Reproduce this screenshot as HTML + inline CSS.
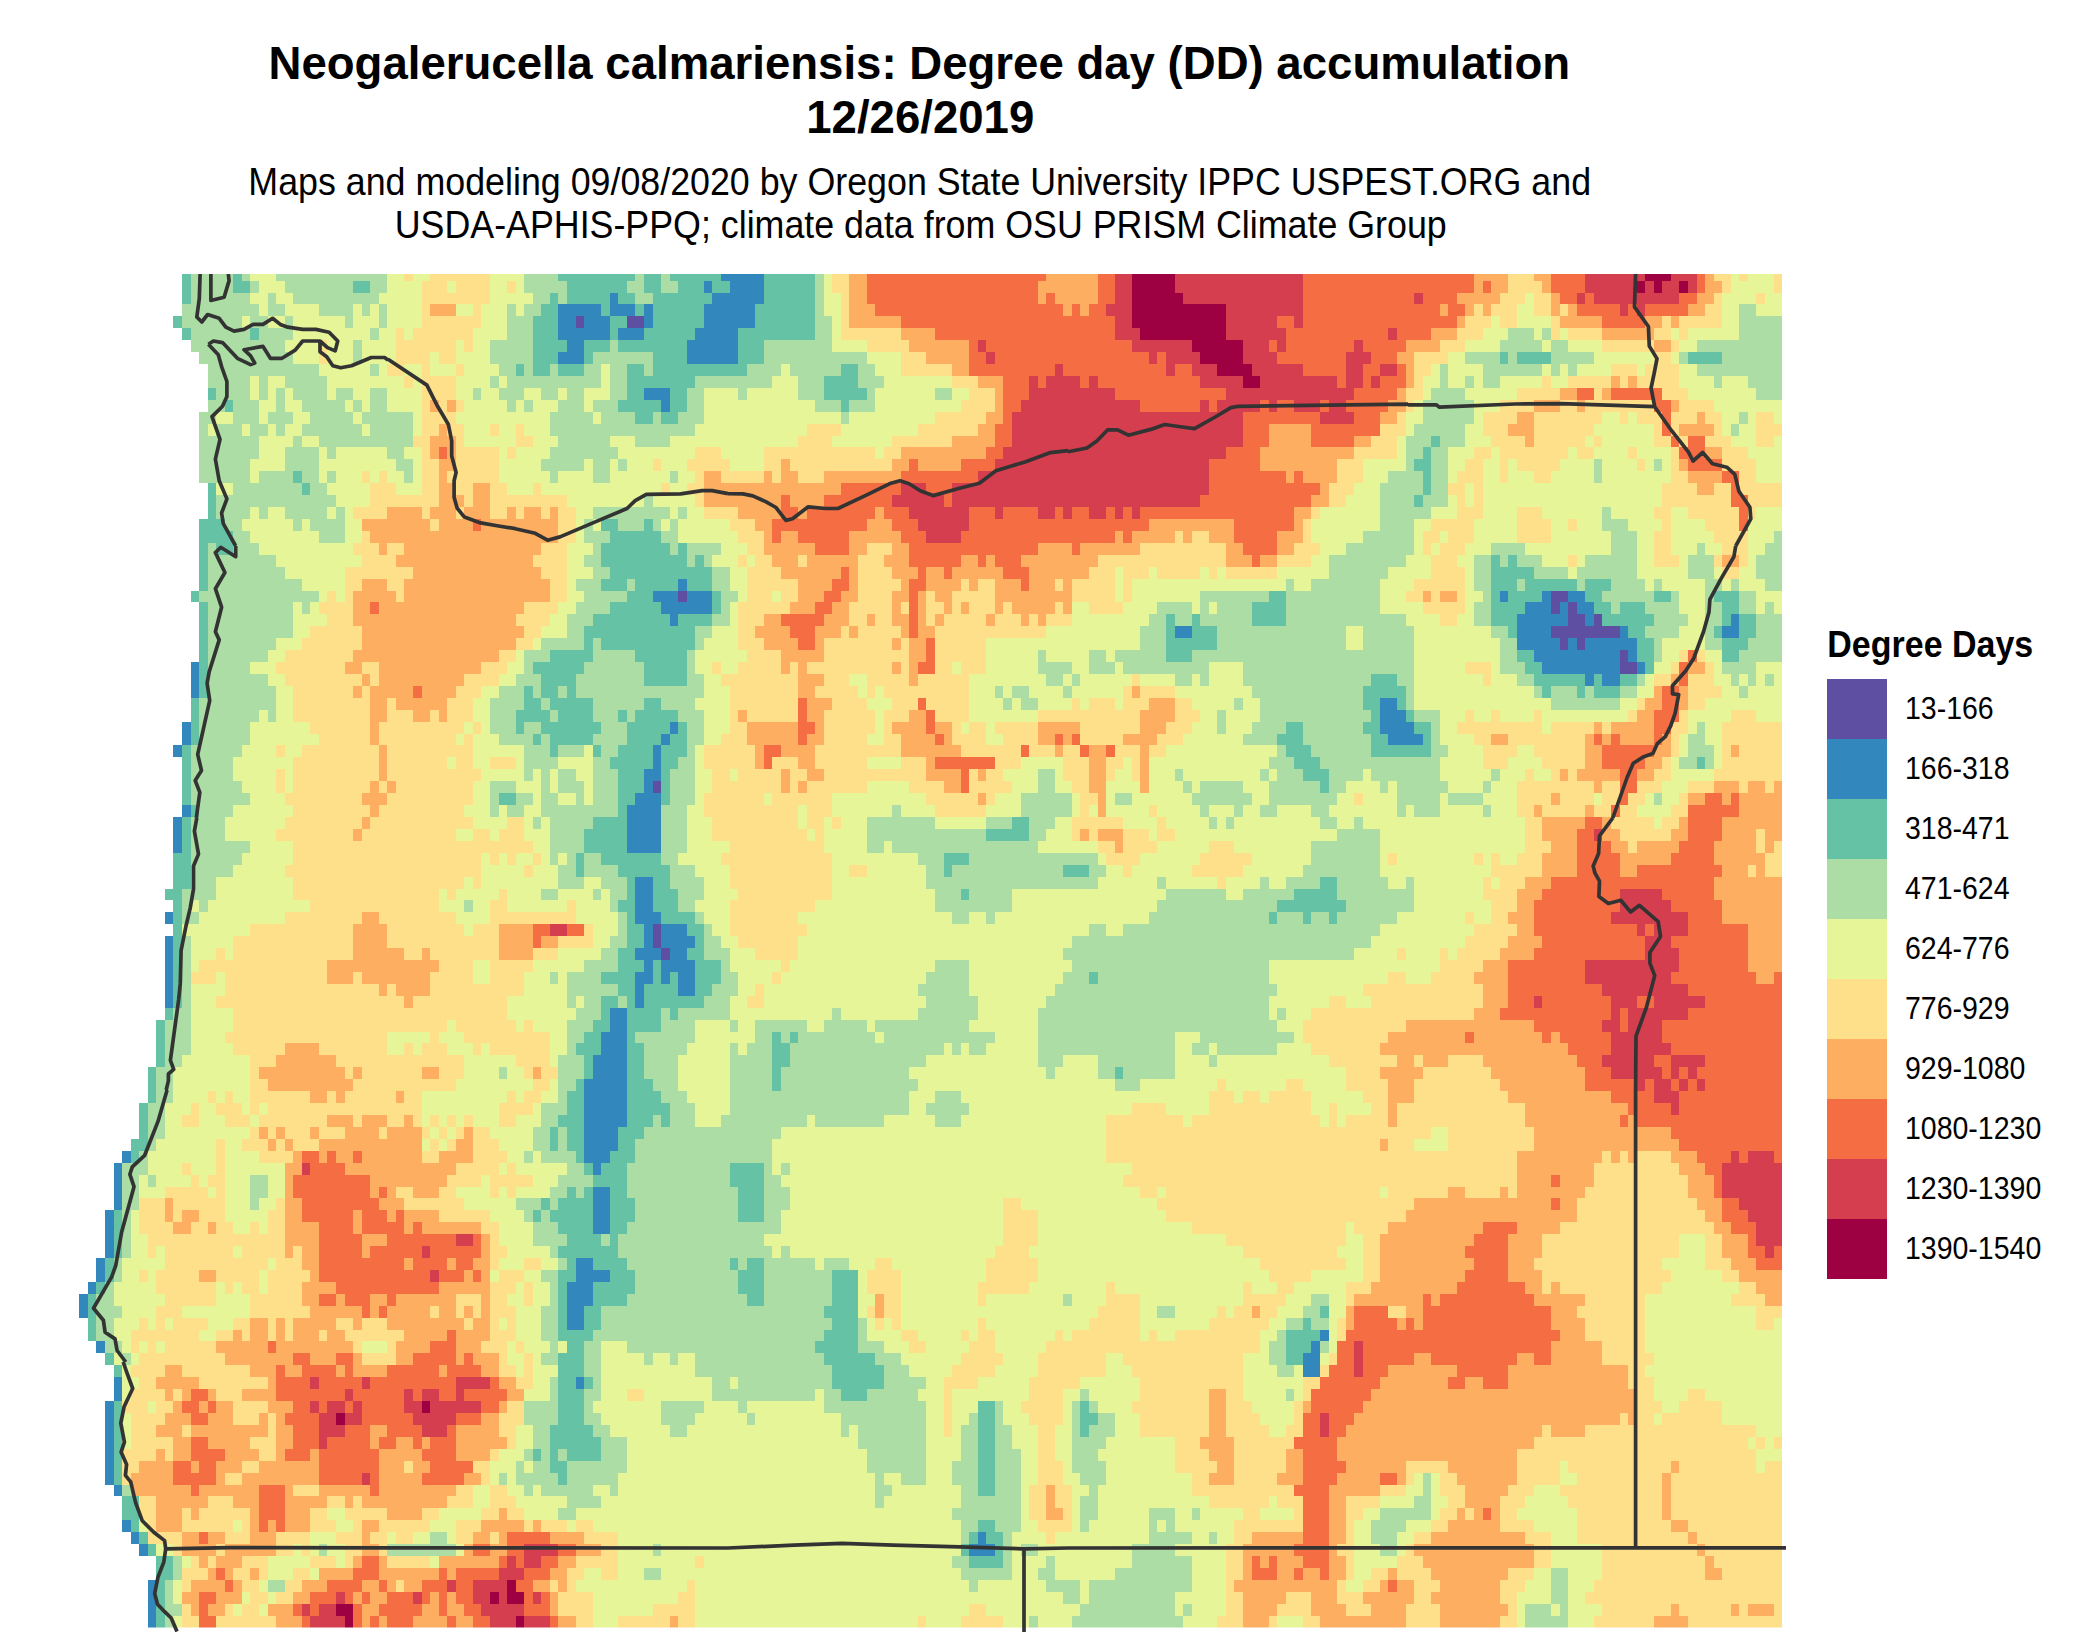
<!DOCTYPE html>
<html><head><meta charset="utf-8"><title>Degree day accumulation</title>
<style>
html,body{margin:0;padding:0;background:#fff}
svg{display:block}
text{font-family:"Liberation Sans",sans-serif;fill:#000}
</style></head><body>
<svg width="2100" height="1645" viewBox="0 0 2100 1645">
<rect width="2100" height="1645" fill="#fff"/>
<text x="919.3" y="79.2" font-size="45.57" font-weight="bold" text-anchor="middle">Neogalerucella calmariensis: Degree day (DD) accumulation</text>
<text x="920.3" y="133.2" font-size="45.57" font-weight="bold" text-anchor="middle">12/26/2019</text>
<text transform="translate(919.7 194.7) scale(1 1.06)" font-size="35.8" text-anchor="middle">Maps and modeling 09/08/2020 by Oregon State University IPPC USPEST.ORG and</text>
<text transform="translate(920.7 238.2) scale(1 1.06)" font-size="35.8" text-anchor="middle">USDA-APHIS-PPQ; climate data from OSU PRISM Climate Group</text>
<defs><clipPath id="mp"><rect x="70" y="274.0" width="1712.1" height="1353.6"/></clipPath>
<clipPath id="lp"><rect x="70" y="274.0" width="1716" height="1358"/></clipPath></defs>
<g clip-path="url(#mp)"><g transform="translate(79.3 268.68) scale(8.5567 11.92)" shape-rendering="crispEdges">
<path fill="#5E4FA2" d="M58 4h1v1h-1zM64 4h2v1h-2zM70 27h1v1h-1zM172 27h2v1h-2zM172 28h1v1h-1zM174 28h1v1h-1zM174 29h2v1h-2zM177 29h1v1h-1zM172 30h8v1h-8zM173 31h1v1h-1zM175 31h1v1h-1zM180 32h1v1h-1zM180 33h2v1h-2zM67 43h1v1h-1zM67 55h1v1h-1zM67 56h1v1h-1zM68 57h1v1h-1z"/>
<path fill="#3288BD" d="M75 0h5v1h-5zM73 1h1v1h-1zM76 1h4v1h-4zM62 2h1v1h-1zM74 2h6v1h-6zM56 3h5v1h-5zM62 3h3v1h-3zM66 3h1v1h-1zM73 3h6v1h-6zM56 4h2v1h-2zM59 4h3v1h-3zM66 4h1v1h-1zM73 4h6v1h-6zM56 5h6v1h-6zM63 5h3v1h-3zM72 5h5v1h-5zM57 6h2v1h-2zM71 6h6v1h-6zM56 7h3v1h-3zM71 7h6v1h-6zM66 10h3v1h-3zM68 11h1v1h-1zM70 26h1v1h-1zM67 27h3v1h-3zM71 27h3v1h-3zM166 27h1v1h-1zM171 27h1v1h-1zM174 27h2v1h-2zM68 28h6v1h-6zM169 28h3v1h-3zM173 28h1v1h-1zM175 28h2v1h-2zM69 29h1v1h-1zM168 29h6v1h-6zM176 29h1v1h-1zM193 29h1v1h-1zM128 30h2v1h-2zM168 30h4v1h-4zM180 30h1v1h-1zM192 30h2v1h-2zM168 31h5v1h-5zM174 31h1v1h-1zM176 31h6v1h-6zM170 32h10v1h-10zM181 32h1v1h-1zM13 33h1v1h-1zM171 33h9v1h-9zM182 33h1v1h-1zM13 34h1v1h-1zM176 34h1v1h-1zM178 34h2v1h-2zM13 35h1v1h-1zM152 36h2v1h-2zM152 37h3v1h-3zM12 38h1v1h-1zM69 38h1v1h-1zM152 38h4v1h-4zM12 39h1v1h-1zM68 39h1v1h-1zM153 39h4v1h-4zM11 40h1v1h-1zM67 40h1v1h-1zM67 41h1v1h-1zM66 42h2v1h-2zM66 43h1v1h-1zM65 44h3v1h-3zM12 45h1v1h-1zM64 45h4v1h-4zM11 46h1v1h-1zM64 46h4v1h-4zM11 47h1v1h-1zM64 47h4v1h-4zM11 48h1v1h-1zM64 48h4v1h-4zM65 51h2v1h-2zM65 52h2v1h-2zM65 53h2v1h-2zM10 54h1v1h-1zM65 54h3v1h-3zM66 55h1v1h-1zM68 55h3v1h-3zM10 56h1v1h-1zM66 56h1v1h-1zM68 56h4v1h-4zM10 57h1v1h-1zM65 57h3v1h-3zM69 57h2v1h-2zM10 58h1v1h-1zM66 58h1v1h-1zM68 58h4v1h-4zM10 59h1v1h-1zM65 59h2v1h-2zM68 59h1v1h-1zM70 59h2v1h-2zM10 60h1v1h-1zM65 60h1v1h-1zM70 60h2v1h-2zM10 61h1v1h-1zM65 61h1v1h-1zM62 62h2v1h-2zM62 63h2v1h-2zM61 64h3v1h-3zM61 65h3v1h-3zM60 66h4v1h-4zM60 67h4v1h-4zM59 68h5v1h-5zM59 69h5v1h-5zM59 70h5v1h-5zM59 71h5v1h-5zM59 72h4v1h-4zM59 73h4v1h-4zM5 74h1v1h-1zM59 74h3v1h-3zM4 75h1v1h-1zM60 75h1v1h-1zM4 76h1v1h-1zM4 77h1v1h-1zM60 77h2v1h-2zM4 78h1v1h-1zM60 78h2v1h-2zM3 79h1v1h-1zM60 79h2v1h-2zM3 80h1v1h-1zM60 80h2v1h-2zM3 81h1v1h-1zM3 82h1v1h-1zM2 83h1v1h-1zM58 83h2v1h-2zM2 84h1v1h-1zM58 84h4v1h-4zM1 85h1v1h-1zM57 85h3v1h-3zM0 86h1v1h-1zM57 86h3v1h-3zM0 87h1v1h-1zM57 87h2v1h-2zM57 88h2v1h-2zM145 89h1v1h-1zM2 90h1v1h-1zM144 90h1v1h-1zM143 91h2v1h-2zM143 92h2v1h-2zM4 93h1v1h-1zM58 93h1v1h-1zM4 94h1v1h-1zM3 95h1v1h-1zM3 96h1v1h-1zM3 97h1v1h-1zM3 98h1v1h-1zM3 99h1v1h-1zM3 100h1v1h-1zM3 101h1v1h-1zM4 102h1v1h-1zM5 105h1v1h-1zM6 106h1v1h-1zM105 106h1v1h-1zM7 107h1v1h-1zM104 107h3v1h-3zM8 110h1v1h-1zM8 111h1v1h-1zM8 112h1v1h-1zM8 113h1v1h-1z"/>
<path fill="#66C2A5" d="M12 0h1v1h-1zM18 0h1v1h-1zM56 0h9v1h-9zM66 0h2v1h-2zM69 0h6v1h-6zM80 0h6v1h-6zM12 1h1v1h-1zM18 1h2v1h-2zM32 1h2v1h-2zM57 1h7v1h-7zM66 1h2v1h-2zM70 1h3v1h-3zM74 1h2v1h-2zM80 1h6v1h-6zM12 2h1v1h-1zM55 2h1v1h-1zM57 2h5v1h-5zM63 2h2v1h-2zM67 2h7v1h-7zM80 2h6v1h-6zM54 3h2v1h-2zM61 3h1v1h-1zM65 3h1v1h-1zM67 3h6v1h-6zM79 3h7v1h-7zM11 4h1v1h-1zM53 4h3v1h-3zM62 4h2v1h-2zM67 4h6v1h-6zM79 4h7v1h-7zM12 5h1v1h-1zM20 5h1v1h-1zM53 5h3v1h-3zM62 5h1v1h-1zM66 5h6v1h-6zM77 5h9v1h-9zM53 6h4v1h-4zM59 6h3v1h-3zM63 6h8v1h-8zM77 6h3v1h-3zM53 7h3v1h-3zM59 7h1v1h-1zM67 7h4v1h-4zM77 7h3v1h-3zM166 7h1v1h-1zM168 7h4v1h-4zM188 7h4v1h-4zM51 8h1v1h-1zM53 8h2v1h-2zM56 8h3v1h-3zM64 8h2v1h-2zM67 8h11v1h-11zM89 8h2v1h-2zM64 9h8v1h-8zM87 9h4v1h-4zM15 10h1v1h-1zM64 10h2v1h-2zM69 10h2v1h-2zM87 10h5v1h-5zM17 11h1v1h-1zM63 11h5v1h-5zM69 11h2v1h-2zM89 11h1v1h-1zM65 12h2v1h-2zM68 12h2v1h-2zM158 14h1v1h-1zM157 15h1v1h-1zM156 16h2v1h-2zM25 17h1v1h-1zM157 17h1v1h-1zM15 18h1v1h-1zM26 18h1v1h-1zM157 18h1v1h-1zM15 19h1v1h-1zM156 19h1v1h-1zM15 20h1v1h-1zM14 21h3v1h-3zM61 21h2v1h-2zM66 21h1v1h-1zM14 22h4v1h-4zM62 22h6v1h-6zM14 23h1v1h-1zM16 23h2v1h-2zM61 23h8v1h-8zM70 23h1v1h-1zM14 24h1v1h-1zM61 24h10v1h-10zM72 24h1v1h-1zM165 24h1v1h-1zM167 24h1v1h-1zM14 25h1v1h-1zM62 25h12v1h-12zM165 25h5v1h-5zM14 26h1v1h-1zM61 26h3v1h-3zM65 26h5v1h-5zM71 26h3v1h-3zM165 26h3v1h-3zM169 26h6v1h-6zM176 26h3v1h-3zM13 27h1v1h-1zM64 27h3v1h-3zM74 27h1v1h-1zM139 27h2v1h-2zM165 27h1v1h-1zM167 27h4v1h-4zM176 27h2v1h-2zM184 27h2v1h-2zM191 27h3v1h-3zM14 28h1v1h-1zM62 28h6v1h-6zM74 28h1v1h-1zM137 28h4v1h-4zM165 28h4v1h-4zM177 28h2v1h-2zM180 28h3v1h-3zM192 28h2v1h-2zM14 29h1v1h-1zM60 29h9v1h-9zM70 29h4v1h-4zM127 29h1v1h-1zM130 29h1v1h-1zM137 29h4v1h-4zM165 29h3v1h-3zM178 29h6v1h-6zM192 29h1v1h-1zM194 29h2v1h-2zM14 30h1v1h-1zM59 30h13v1h-13zM127 30h1v1h-1zM130 30h3v1h-3zM167 30h1v1h-1zM181 30h2v1h-2zM191 30h1v1h-1zM194 30h2v1h-2zM14 31h1v1h-1zM59 31h1v1h-1zM61 31h11v1h-11zM127 31h6v1h-6zM182 31h2v1h-2zM192 31h3v1h-3zM14 32h1v1h-1zM55 32h5v1h-5zM65 32h6v1h-6zM127 32h3v1h-3zM168 32h2v1h-2zM182 32h2v1h-2zM192 32h2v1h-2zM14 33h1v1h-1zM53 33h6v1h-6zM66 33h5v1h-5zM169 33h2v1h-2zM183 33h1v1h-1zM14 34h1v1h-1zM54 34h4v1h-4zM66 34h5v1h-5zM151 34h3v1h-3zM170 34h6v1h-6zM177 34h1v1h-1zM180 34h2v1h-2zM14 35h1v1h-1zM52 35h1v1h-1zM54 35h2v1h-2zM57 35h1v1h-1zM150 35h5v1h-5zM171 35h1v1h-1zM175 35h1v1h-1zM177 35h3v1h-3zM13 36h1v1h-1zM52 36h2v1h-2zM55 36h5v1h-5zM66 36h2v1h-2zM150 36h2v1h-2zM154 36h1v1h-1zM13 37h1v1h-1zM51 37h4v1h-4zM56 37h4v1h-4zM63 37h1v1h-1zM65 37h5v1h-5zM151 37h1v1h-1zM155 37h1v1h-1zM13 38h1v1h-1zM51 38h1v1h-1zM54 38h7v1h-7zM64 38h5v1h-5zM70 38h1v1h-1zM141 38h2v1h-2zM150 38h2v1h-2zM156 38h2v1h-2zM13 39h1v1h-1zM53 39h1v1h-1zM55 39h5v1h-5zM64 39h4v1h-4zM69 39h2v1h-2zM140 39h3v1h-3zM151 39h2v1h-2zM157 39h1v1h-1zM12 40h1v1h-1zM55 40h1v1h-1zM60 40h1v1h-1zM63 40h4v1h-4zM68 40h3v1h-3zM141 40h3v1h-3zM151 40h7v1h-7zM12 41h1v1h-1zM62 41h5v1h-5zM68 41h2v1h-2zM142 41h3v1h-3zM189 41h1v1h-1zM12 42h1v1h-1zM63 42h3v1h-3zM68 42h1v1h-1zM143 42h3v1h-3zM12 43h1v1h-1zM63 43h3v1h-3zM68 43h1v1h-1zM145 43h1v1h-1zM12 44h1v1h-1zM49 44h2v1h-2zM63 44h2v1h-2zM68 44h1v1h-1zM13 45h1v1h-1zM63 45h1v1h-1zM12 46h1v1h-1zM60 46h4v1h-4zM109 46h2v1h-2zM12 47h1v1h-1zM59 47h5v1h-5zM106 47h5v1h-5zM12 48h1v1h-1zM59 48h5v1h-5zM11 49h2v1h-2zM58 49h1v1h-1zM61 49h7v1h-7zM101 49h3v1h-3zM11 50h2v1h-2zM58 50h1v1h-1zM63 50h6v1h-6zM101 50h1v1h-1zM115 50h3v1h-3zM11 51h2v1h-2zM64 51h1v1h-1zM67 51h2v1h-2zM145 51h2v1h-2zM10 52h2v1h-2zM64 52h1v1h-1zM67 52h3v1h-3zM103 52h1v1h-1zM142 52h5v1h-5zM11 53h1v1h-1zM63 53h2v1h-2zM67 53h3v1h-3zM140 53h8v1h-8zM11 54h1v1h-1zM64 54h1v1h-1zM68 54h4v1h-4zM139 54h1v1h-1zM143 54h1v1h-1zM146 54h1v1h-1zM11 55h1v1h-1zM64 55h2v1h-2zM71 55h2v1h-2zM11 56h1v1h-1zM64 56h2v1h-2zM72 56h1v1h-1zM11 57h1v1h-1zM63 57h2v1h-2zM71 57h2v1h-2zM11 58h1v1h-1zM63 58h3v1h-3zM67 58h1v1h-1zM72 58h3v1h-3zM11 59h1v1h-1zM61 59h4v1h-4zM67 59h1v1h-1zM69 59h1v1h-1zM72 59h3v1h-3zM118 59h1v1h-1zM11 60h1v1h-1zM63 60h2v1h-2zM66 60h4v1h-4zM72 60h2v1h-2zM11 61h1v1h-1zM61 61h2v1h-2zM64 61h1v1h-1zM66 61h7v1h-7zM10 62h1v1h-1zM61 62h1v1h-1zM64 62h4v1h-4zM69 62h1v1h-1zM9 63h1v1h-1zM60 63h2v1h-2zM64 63h4v1h-4zM9 64h1v1h-1zM59 64h2v1h-2zM64 64h1v1h-1zM81 64h1v1h-1zM83 64h1v1h-1zM9 65h1v1h-1zM58 65h3v1h-3zM64 65h2v1h-2zM81 65h2v1h-2zM9 66h1v1h-1zM59 66h1v1h-1zM64 66h2v1h-2zM81 66h2v1h-2zM8 67h1v1h-1zM59 67h1v1h-1zM64 67h2v1h-2zM81 67h1v1h-1zM121 67h1v1h-1zM8 68h1v1h-1zM58 68h1v1h-1zM64 68h3v1h-3zM81 68h1v1h-1zM8 69h1v1h-1zM57 69h2v1h-2zM64 69h4v1h-4zM7 70h1v1h-1zM57 70h2v1h-2zM64 70h5v1h-5zM7 71h1v1h-1zM56 71h3v1h-3zM64 71h3v1h-3zM68 71h1v1h-1zM7 72h1v1h-1zM55 72h1v1h-1zM57 72h2v1h-2zM63 72h3v1h-3zM6 73h2v1h-2zM55 73h1v1h-1zM57 73h2v1h-2zM63 73h2v1h-2zM6 74h1v1h-1zM58 74h1v1h-1zM62 74h3v1h-3zM59 75h1v1h-1zM61 75h3v1h-3zM76 75h4v1h-4zM60 76h4v1h-4zM76 76h4v1h-4zM57 77h1v1h-1zM59 77h1v1h-1zM62 77h2v1h-2zM77 77h3v1h-3zM54 78h1v1h-1zM56 78h4v1h-4zM62 78h3v1h-3zM77 78h3v1h-3zM4 79h1v1h-1zM53 79h1v1h-1zM55 79h5v1h-5zM62 79h3v1h-3zM77 79h3v1h-3zM4 80h1v1h-1zM56 80h4v1h-4zM62 80h2v1h-2zM4 81h1v1h-1zM57 81h4v1h-4zM62 81h1v1h-1zM4 82h1v1h-1zM56 82h7v1h-7zM3 83h1v1h-1zM57 83h1v1h-1zM60 83h4v1h-4zM76 83h1v1h-1zM78 83h2v1h-2zM3 84h1v1h-1zM56 84h2v1h-2zM62 84h3v1h-3zM77 84h3v1h-3zM88 84h3v1h-3zM2 85h1v1h-1zM56 85h1v1h-1zM60 85h5v1h-5zM77 85h3v1h-3zM88 85h3v1h-3zM1 86h1v1h-1zM56 86h1v1h-1zM60 86h4v1h-4zM78 86h2v1h-2zM88 86h3v1h-3zM1 87h1v1h-1zM56 87h1v1h-1zM59 87h2v1h-2zM87 87h4v1h-4zM145 87h1v1h-1zM1 88h1v1h-1zM56 88h1v1h-1zM59 88h2v1h-2zM88 88h3v1h-3zM143 88h1v1h-1zM1 89h1v1h-1zM56 89h4v1h-4zM87 89h4v1h-4zM141 89h4v1h-4zM57 90h2v1h-2zM86 90h5v1h-5zM141 90h3v1h-3zM3 91h1v1h-1zM56 91h3v1h-3zM87 91h6v1h-6zM141 91h2v1h-2zM4 92h1v1h-1zM56 92h3v1h-3zM88 92h6v1h-6zM56 93h2v1h-2zM59 93h1v1h-1zM88 93h6v1h-6zM56 94h3v1h-3zM89 94h3v1h-3zM4 95h1v1h-1zM56 95h3v1h-3zM105 95h2v1h-2zM117 95h1v1h-1zM4 96h1v1h-1zM56 96h3v1h-3zM105 96h2v1h-2zM117 96h2v1h-2zM4 97h1v1h-1zM55 97h5v1h-5zM105 97h2v1h-2zM117 97h1v1h-1zM4 98h1v1h-1zM55 98h6v1h-6zM105 98h2v1h-2zM4 99h1v1h-1zM53 99h1v1h-1zM55 99h1v1h-1zM57 99h4v1h-4zM105 99h2v1h-2zM4 100h1v1h-1zM55 100h2v1h-2zM105 100h2v1h-2zM4 101h1v1h-1zM56 101h1v1h-1zM105 101h2v1h-2zM105 102h2v1h-2zM5 103h2v1h-2zM5 104h2v1h-2zM6 105h1v1h-1zM105 105h2v1h-2zM7 106h1v1h-1zM104 106h1v1h-1zM106 106h2v1h-2zM8 107h1v1h-1zM103 107h1v1h-1zM107 107h1v1h-1zM9 108h2v1h-2zM104 108h4v1h-4zM9 109h2v1h-2zM9 110h1v1h-1zM9 111h1v1h-1zM9 112h1v1h-1zM9 113h1v1h-1z"/>
<path fill="#ABDDA4" d="M13 0h5v1h-5zM19 0h1v1h-1zM23 0h13v1h-13zM52 0h4v1h-4zM65 0h1v1h-1zM68 0h1v1h-1zM86 0h1v1h-1zM13 1h5v1h-5zM20 1h1v1h-1zM24 1h8v1h-8zM34 1h2v1h-2zM52 1h5v1h-5zM64 1h2v1h-2zM68 1h2v1h-2zM86 1h1v1h-1zM13 2h7v1h-7zM22 2h1v1h-1zM25 2h10v1h-10zM53 2h2v1h-2zM56 2h1v1h-1zM65 2h2v1h-2zM86 2h1v1h-1zM12 3h9v1h-9zM22 3h2v1h-2zM28 3h4v1h-4zM33 3h1v1h-1zM35 3h1v1h-1zM50 3h1v1h-1zM52 3h2v1h-2zM86 3h1v1h-1zM194 3h2v1h-2zM12 4h7v1h-7zM20 4h2v1h-2zM24 4h1v1h-1zM31 4h1v1h-1zM35 4h1v1h-1zM50 4h3v1h-3zM86 4h2v1h-2zM194 4h5v1h-5zM13 5h7v1h-7zM21 5h4v1h-4zM34 5h1v1h-1zM50 5h3v1h-3zM86 5h2v1h-2zM167 5h3v1h-3zM171 5h1v1h-1zM194 5h5v1h-5zM13 6h11v1h-11zM32 6h1v1h-1zM48 6h5v1h-5zM62 6h1v1h-1zM80 6h8v1h-8zM166 6h5v1h-5zM172 6h2v1h-2zM189 6h10v1h-10zM14 7h11v1h-11zM32 7h1v1h-1zM48 7h5v1h-5zM60 7h7v1h-7zM80 7h12v1h-12zM162 7h4v1h-4zM167 7h1v1h-1zM172 7h5v1h-5zM187 7h1v1h-1zM192 7h7v1h-7zM15 8h13v1h-13zM34 8h1v1h-1zM49 8h2v1h-2zM52 8h1v1h-1zM55 8h1v1h-1zM59 8h2v1h-2zM62 8h2v1h-2zM66 8h1v1h-1zM78 8h4v1h-4zM83 8h6v1h-6zM91 8h2v1h-2zM159 8h1v1h-1zM164 8h7v1h-7zM172 8h1v1h-1zM174 8h1v1h-1zM189 8h10v1h-10zM15 9h5v1h-5zM21 9h1v1h-1zM24 9h5v1h-5zM48 9h1v1h-1zM50 9h11v1h-11zM62 9h2v1h-2zM72 9h9v1h-9zM84 9h3v1h-3zM91 9h3v1h-3zM159 9h1v1h-1zM162 9h1v1h-1zM164 9h2v1h-2zM191 9h1v1h-1zM195 9h4v1h-4zM16 10h4v1h-4zM21 10h1v1h-1zM23 10h1v1h-1zM25 10h4v1h-4zM30 10h2v1h-2zM34 10h2v1h-2zM46 10h1v1h-1zM49 10h3v1h-3zM54 10h2v1h-2zM57 10h2v1h-2zM62 10h2v1h-2zM71 10h2v1h-2zM77 10h1v1h-1zM84 10h3v1h-3zM92 10h1v1h-1zM100 10h2v1h-2zM158 10h4v1h-4zM196 10h3v1h-3zM15 11h2v1h-2zM18 11h3v1h-3zM23 11h1v1h-1zM26 11h5v1h-5zM32 11h1v1h-1zM34 11h2v1h-2zM50 11h1v1h-1zM52 11h1v1h-1zM56 11h3v1h-3zM60 11h3v1h-3zM71 11h2v1h-2zM86 11h3v1h-3zM90 11h3v1h-3zM157 11h6v1h-6zM14 12h2v1h-2zM18 12h3v1h-3zM22 12h3v1h-3zM27 12h5v1h-5zM33 12h6v1h-6zM55 12h5v1h-5zM61 12h4v1h-4zM67 12h1v1h-1zM70 12h3v1h-3zM89 12h1v1h-1zM157 12h6v1h-6zM194 12h1v1h-1zM14 13h1v1h-1zM16 13h3v1h-3zM20 13h2v1h-2zM23 13h1v1h-1zM26 13h7v1h-7zM34 13h5v1h-5zM55 13h17v1h-17zM156 13h6v1h-6zM193 13h1v1h-1zM14 14h7v1h-7zM25 14h1v1h-1zM28 14h11v1h-11zM56 14h6v1h-6zM65 14h4v1h-4zM155 14h3v1h-3zM159 14h3v1h-3zM14 15h7v1h-7zM24 15h4v1h-4zM29 15h1v1h-1zM36 15h2v1h-2zM55 15h8v1h-8zM155 15h2v1h-2zM158 15h2v1h-2zM14 16h6v1h-6zM24 16h4v1h-4zM37 16h2v1h-2zM54 16h5v1h-5zM60 16h2v1h-2zM63 16h1v1h-1zM155 16h1v1h-1zM158 16h2v1h-2zM177 16h1v1h-1zM184 16h1v1h-1zM14 17h6v1h-6zM21 17h4v1h-4zM26 17h2v1h-2zM29 17h1v1h-1zM38 17h1v1h-1zM55 17h1v1h-1zM60 17h2v1h-2zM69 17h1v1h-1zM153 17h4v1h-4zM158 17h2v1h-2zM177 17h1v1h-1zM18 18h8v1h-8zM27 18h2v1h-2zM152 18h5v1h-5zM158 18h2v1h-2zM16 19h14v1h-14zM66 19h1v1h-1zM152 19h4v1h-4zM157 19h3v1h-3zM16 20h4v1h-4zM21 20h1v1h-1zM24 20h5v1h-5zM30 20h1v1h-1zM60 20h9v1h-9zM70 20h1v1h-1zM152 20h6v1h-6zM178 20h1v1h-1zM17 21h2v1h-2zM25 21h1v1h-1zM27 21h4v1h-4zM59 21h1v1h-1zM63 21h3v1h-3zM67 21h1v1h-1zM69 21h1v1h-1zM152 21h4v1h-4zM178 21h3v1h-3zM18 22h2v1h-2zM28 22h3v1h-3zM59 22h3v1h-3zM68 22h2v1h-2zM150 22h6v1h-6zM179 22h3v1h-3zM198 22h1v1h-1zM15 23h1v1h-1zM18 23h3v1h-3zM60 23h1v1h-1zM69 23h1v1h-1zM71 23h4v1h-4zM148 23h8v1h-8zM165 23h4v1h-4zM179 23h3v1h-3zM189 23h1v1h-1zM197 23h2v1h-2zM15 24h8v1h-8zM59 24h2v1h-2zM71 24h1v1h-1zM73 24h1v1h-1zM146 24h9v1h-9zM163 24h2v1h-2zM166 24h1v1h-1zM168 24h3v1h-3zM176 24h6v1h-6zM188 24h3v1h-3zM196 24h3v1h-3zM15 25h9v1h-9zM60 25h2v1h-2zM74 25h2v1h-2zM146 25h7v1h-7zM163 25h2v1h-2zM170 25h4v1h-4zM175 25h7v1h-7zM188 25h3v1h-3zM196 25h3v1h-3zM15 26h11v1h-11zM58 26h3v1h-3zM64 26h1v1h-1zM74 26h2v1h-2zM141 26h1v1h-1zM144 26h8v1h-8zM163 26h2v1h-2zM168 26h1v1h-1zM175 26h1v1h-1zM179 26h4v1h-4zM184 26h1v1h-1zM190 26h2v1h-2zM193 26h1v1h-1zM197 26h2v1h-2zM14 27h14v1h-14zM59 27h5v1h-5zM75 27h2v1h-2zM131 27h8v1h-8zM141 27h11v1h-11zM164 27h1v1h-1zM178 27h6v1h-6zM186 27h1v1h-1zM190 27h1v1h-1zM194 27h2v1h-2zM15 28h10v1h-10zM26 28h1v1h-1zM58 28h4v1h-4zM75 28h1v1h-1zM126 28h4v1h-4zM131 28h1v1h-1zM133 28h4v1h-4zM141 28h11v1h-11zM163 28h2v1h-2zM179 28h1v1h-1zM183 28h4v1h-4zM190 28h2v1h-2zM194 28h2v1h-2zM197 28h1v1h-1zM15 29h10v1h-10zM57 29h3v1h-3zM74 29h2v1h-2zM125 29h2v1h-2zM128 29h2v1h-2zM131 29h6v1h-6zM141 29h14v1h-14zM163 29h2v1h-2zM184 29h4v1h-4zM190 29h2v1h-2zM196 29h3v1h-3zM15 30h10v1h-10zM57 30h2v1h-2zM72 30h2v1h-2zM124 30h3v1h-3zM133 30h15v1h-15zM150 30h6v1h-6zM165 30h2v1h-2zM183 30h4v1h-4zM190 30h1v1h-1zM196 30h3v1h-3zM15 31h8v1h-8zM54 31h5v1h-5zM60 31h1v1h-1zM72 31h1v1h-1zM124 31h3v1h-3zM133 31h15v1h-15zM150 31h6v1h-6zM166 31h2v1h-2zM184 31h1v1h-1zM190 31h2v1h-2zM195 31h4v1h-4zM15 32h7v1h-7zM52 32h3v1h-3zM60 32h5v1h-5zM71 32h1v1h-1zM112 32h1v1h-1zM118 32h2v1h-2zM121 32h6v1h-6zM130 32h26v1h-26zM166 32h2v1h-2zM184 32h1v1h-1zM194 32h5v1h-5zM15 33h5v1h-5zM52 33h1v1h-1zM59 33h7v1h-7zM71 33h1v1h-1zM112 33h4v1h-4zM118 33h3v1h-3zM122 33h10v1h-10zM136 33h20v1h-20zM166 33h3v1h-3zM192 33h4v1h-4zM15 34h7v1h-7zM51 34h3v1h-3zM58 34h8v1h-8zM71 34h2v1h-2zM113 34h2v1h-2zM116 34h1v1h-1zM128 34h2v1h-2zM131 34h1v1h-1zM136 34h15v1h-15zM154 34h2v1h-2zM168 34h2v1h-2zM182 34h1v1h-1zM193 34h1v1h-1zM195 34h1v1h-1zM197 34h1v1h-1zM15 35h8v1h-8zM49 35h3v1h-3zM53 35h1v1h-1zM56 35h1v1h-1zM58 35h15v1h-15zM107 35h1v1h-1zM109 35h2v1h-2zM115 35h1v1h-1zM137 35h13v1h-13zM155 35h1v1h-1zM170 35h1v1h-1zM172 35h3v1h-3zM176 35h1v1h-1zM180 35h2v1h-2zM194 35h1v1h-1zM14 36h9v1h-9zM48 36h4v1h-4zM54 36h1v1h-1zM60 36h6v1h-6zM68 36h4v1h-4zM108 36h1v1h-1zM110 36h2v1h-2zM135 36h1v1h-1zM138 36h12v1h-12zM155 36h1v1h-1zM172 36h8v1h-8zM14 37h7v1h-7zM22 37h1v1h-1zM48 37h3v1h-3zM55 37h1v1h-1zM60 37h3v1h-3zM64 37h1v1h-1zM70 37h3v1h-3zM133 37h1v1h-1zM138 37h13v1h-13zM156 37h3v1h-3zM14 38h6v1h-6zM48 38h3v1h-3zM52 38h2v1h-2zM61 38h3v1h-3zM71 38h2v1h-2zM133 38h1v1h-1zM137 38h4v1h-4zM143 38h7v1h-7zM158 38h1v1h-1zM189 38h1v1h-1zM14 39h6v1h-6zM49 39h4v1h-4zM54 39h1v1h-1zM60 39h4v1h-4zM71 39h2v1h-2zM136 39h4v1h-4zM143 39h8v1h-8zM158 39h1v1h-1zM188 39h2v1h-2zM13 40h6v1h-6zM52 40h3v1h-3zM56 40h3v1h-3zM61 40h2v1h-2zM71 40h1v1h-1zM140 40h1v1h-1zM144 40h7v1h-7zM158 40h2v1h-2zM188 40h3v1h-3zM13 41h5v1h-5zM52 41h4v1h-4zM60 41h2v1h-2zM70 41h2v1h-2zM139 41h3v1h-3zM145 41h14v1h-14zM187 41h2v1h-2zM190 41h1v1h-1zM13 42h5v1h-5zM52 42h1v1h-1zM54 42h1v1h-1zM56 42h2v1h-2zM60 42h3v1h-3zM69 42h3v1h-3zM112 42h2v1h-2zM128 42h1v1h-1zM138 42h1v1h-1zM140 42h3v1h-3zM146 42h4v1h-4zM151 42h8v1h-8zM165 42h1v1h-1zM13 43h6v1h-6zM48 43h3v1h-3zM54 43h1v1h-1zM56 43h3v1h-3zM60 43h3v1h-3zM69 43h3v1h-3zM112 43h2v1h-2zM129 43h1v1h-1zM131 43h5v1h-5zM139 43h6v1h-6zM146 43h2v1h-2zM152 43h1v1h-1zM154 43h6v1h-6zM164 43h1v1h-1zM13 44h7v1h-7zM48 44h1v1h-1zM51 44h2v1h-2zM54 44h2v1h-2zM58 44h1v1h-1zM60 44h3v1h-3zM69 44h3v1h-3zM110 44h6v1h-6zM121 44h2v1h-2zM130 44h7v1h-7zM139 44h8v1h-8zM154 44h5v1h-5zM160 44h4v1h-4zM184 44h1v1h-1zM14 45h4v1h-4zM48 45h1v1h-1zM50 45h2v1h-2zM54 45h9v1h-9zM68 45h3v1h-3zM95 45h1v1h-1zM110 45h6v1h-6zM131 45h1v1h-1zM135 45h1v1h-1zM138 45h2v1h-2zM144 45h2v1h-2zM154 45h1v1h-1zM156 45h3v1h-3zM164 45h1v1h-1zM13 46h4v1h-4zM53 46h1v1h-1zM55 46h5v1h-5zM68 46h3v1h-3zM92 46h8v1h-8zM106 46h3v1h-3zM111 46h3v1h-3zM132 46h1v1h-1zM134 46h1v1h-1zM145 46h2v1h-2zM149 46h1v1h-1zM13 47h4v1h-4zM55 47h4v1h-4zM68 47h3v1h-3zM92 47h14v1h-14zM111 47h2v1h-2zM147 47h5v1h-5zM13 48h7v1h-7zM55 48h4v1h-4zM68 48h3v1h-3zM92 48h2v1h-2zM95 48h17v1h-17zM144 48h8v1h-8zM13 49h6v1h-6zM55 49h1v1h-1zM57 49h1v1h-1zM59 49h2v1h-2zM68 49h2v1h-2zM98 49h3v1h-3zM104 49h15v1h-15zM144 49h8v1h-8zM13 50h5v1h-5zM56 50h2v1h-2zM59 50h4v1h-4zM69 50h3v1h-3zM99 50h2v1h-2zM102 50h13v1h-13zM118 50h2v1h-2zM143 50h9v1h-9zM13 51h3v1h-3zM56 51h3v1h-3zM61 51h3v1h-3zM69 51h4v1h-4zM99 51h20v1h-20zM126 51h1v1h-1zM138 51h1v1h-1zM141 51h4v1h-4zM147 51h6v1h-6zM155 51h1v1h-1zM12 52h4v1h-4zM54 52h2v1h-2zM60 52h1v1h-1zM62 52h2v1h-2zM70 52h3v1h-3zM100 52h3v1h-3zM104 52h5v1h-5zM127 52h7v1h-7zM136 52h6v1h-6zM147 52h9v1h-9zM12 53h1v1h-1zM14 53h1v1h-1zM45 53h1v1h-1zM62 53h1v1h-1zM70 53h2v1h-2zM100 53h9v1h-9zM126 53h14v1h-14zM148 53h8v1h-8zM12 54h2v1h-2zM63 54h1v1h-1zM72 54h1v1h-1zM102 54h2v1h-2zM106 54h1v1h-1zM125 54h14v1h-14zM140 54h3v1h-3zM144 54h2v1h-2zM147 54h7v1h-7zM63 55h1v1h-1zM73 55h1v1h-1zM118 55h2v1h-2zM122 55h30v1h-30zM12 56h1v1h-1zM62 56h2v1h-2zM73 56h2v1h-2zM116 56h35v1h-35zM12 57h1v1h-1zM61 57h2v1h-2zM73 57h3v1h-3zM115 57h34v1h-34zM12 58h1v1h-1zM59 58h4v1h-4zM75 58h1v1h-1zM100 58h4v1h-4zM116 58h23v1h-23zM12 59h1v1h-1zM55 59h1v1h-1zM57 59h4v1h-4zM75 59h2v1h-2zM99 59h5v1h-5zM115 59h3v1h-3zM119 59h20v1h-20zM12 60h1v1h-1zM57 60h6v1h-6zM74 60h3v1h-3zM98 60h6v1h-6zM114 60h26v1h-26zM12 61h1v1h-1zM57 61h1v1h-1zM59 61h2v1h-2zM63 61h1v1h-1zM73 61h3v1h-3zM99 61h6v1h-6zM113 61h26v1h-26zM11 62h2v1h-2zM58 62h3v1h-3zM68 62h1v1h-1zM70 62h6v1h-6zM88 62h1v1h-1zM98 62h7v1h-7zM112 62h27v1h-27zM140 62h1v1h-1zM10 63h3v1h-3zM57 63h3v1h-3zM68 63h4v1h-4zM76 63h1v1h-1zM79 63h6v1h-6zM87 63h5v1h-5zM93 63h11v1h-11zM112 63h28v1h-28zM10 64h3v1h-3zM57 64h2v1h-2zM65 64h7v1h-7zM79 64h2v1h-2zM82 64h1v1h-1zM84 64h9v1h-9zM94 64h13v1h-13zM112 64h16v1h-16zM131 64h11v1h-11zM10 65h3v1h-3zM57 65h1v1h-1zM66 65h5v1h-5zM76 65h1v1h-1zM78 65h3v1h-3zM83 65h18v1h-18zM102 65h1v1h-1zM104 65h2v1h-2zM112 65h16v1h-16zM130 65h2v1h-2zM133 65h7v1h-7zM10 66h2v1h-2zM56 66h3v1h-3zM66 66h4v1h-4zM76 66h5v1h-5zM83 66h16v1h-16zM112 66h3v1h-3zM119 66h9v1h-9zM132 66h1v1h-1zM9 67h2v1h-2zM49 67h1v1h-1zM56 67h3v1h-3zM66 67h4v1h-4zM76 67h5v1h-5zM82 67h15v1h-15zM113 67h1v1h-1zM119 67h2v1h-2zM122 67h6v1h-6zM9 68h2v1h-2zM56 68h2v1h-2zM67 68h3v1h-3zM76 68h5v1h-5zM82 68h16v1h-16zM121 68h3v1h-3zM9 69h2v1h-2zM56 69h1v1h-1zM68 69h3v1h-3zM76 69h21v1h-21zM100 69h3v1h-3zM8 70h2v1h-2zM54 70h3v1h-3zM69 70h3v1h-3zM76 70h21v1h-21zM99 70h5v1h-5zM8 71h2v1h-2zM54 71h2v1h-2zM67 71h1v1h-1zM69 71h3v1h-3zM75 71h10v1h-10zM86 71h8v1h-8zM100 71h3v1h-3zM8 72h2v1h-2zM53 72h2v1h-2zM56 72h1v1h-1zM66 72h16v1h-16zM8 73h1v1h-1zM53 73h2v1h-2zM56 73h1v1h-1zM65 73h16v1h-16zM7 74h1v1h-1zM52 74h1v1h-1zM54 74h4v1h-4zM65 74h16v1h-16zM5 75h3v1h-3zM57 75h2v1h-2zM64 75h12v1h-12zM80 75h1v1h-1zM82 75h1v1h-1zM5 76h2v1h-2zM8 76h1v1h-1zM20 76h2v1h-2zM56 76h4v1h-4zM64 76h12v1h-12zM80 76h2v1h-2zM5 77h2v1h-2zM20 77h2v1h-2zM55 77h2v1h-2zM58 77h1v1h-1zM64 77h13v1h-13zM80 77h3v1h-3zM5 78h2v1h-2zM20 78h1v1h-1zM51 78h3v1h-3zM55 78h1v1h-1zM65 78h12v1h-12zM80 78h3v1h-3zM5 79h1v1h-1zM52 79h1v1h-1zM54 79h1v1h-1zM65 79h12v1h-12zM80 79h2v1h-2zM5 80h1v1h-1zM53 80h3v1h-3zM64 80h18v1h-18zM5 81h1v1h-1zM53 81h4v1h-4zM61 81h1v1h-1zM63 81h17v1h-17zM5 82h1v1h-1zM55 82h1v1h-1zM63 82h18v1h-18zM82 82h1v1h-1zM4 83h1v1h-1zM56 83h1v1h-1zM64 83h12v1h-12zM77 83h1v1h-1zM80 83h6v1h-6zM87 83h3v1h-3zM4 84h1v1h-1zM54 84h2v1h-2zM65 84h12v1h-12zM80 84h8v1h-8zM3 85h1v1h-1zM55 85h1v1h-1zM65 85h12v1h-12zM80 85h8v1h-8zM2 86h2v1h-2zM55 86h1v1h-1zM64 86h14v1h-14zM80 86h8v1h-8zM115 86h1v1h-1zM144 86h2v1h-2zM2 87h3v1h-3zM54 87h2v1h-2zM61 87h26v1h-26zM126 87h2v1h-2zM143 87h2v1h-2zM2 88h2v1h-2zM54 88h2v1h-2zM61 88h27v1h-27zM91 88h1v1h-1zM141 88h2v1h-2zM144 88h2v1h-2zM2 89h2v1h-2zM54 89h2v1h-2zM60 89h27v1h-27zM91 89h1v1h-1zM140 89h1v1h-1zM3 90h2v1h-2zM55 90h1v1h-1zM59 90h2v1h-2zM64 90h22v1h-22zM91 90h3v1h-3zM139 90h2v1h-2zM145 90h1v1h-1zM5 91h1v1h-1zM54 91h2v1h-2zM59 91h2v1h-2zM66 91h1v1h-1zM69 91h1v1h-1zM72 91h15v1h-15zM93 91h3v1h-3zM139 91h2v1h-2zM59 92h2v1h-2zM72 92h16v1h-16zM94 92h3v1h-3zM140 92h2v1h-2zM55 93h1v1h-1zM60 93h1v1h-1zM74 93h2v1h-2zM77 93h11v1h-11zM94 93h5v1h-5zM55 94h1v1h-1zM59 94h2v1h-2zM74 94h12v1h-12zM87 94h2v1h-2zM92 94h6v1h-6zM117 94h1v1h-1zM141 94h1v1h-1zM52 95h4v1h-4zM59 95h1v1h-1zM68 95h5v1h-5zM77 95h1v1h-1zM87 95h12v1h-12zM107 95h1v1h-1zM116 95h1v1h-1zM118 95h1v1h-1zM52 96h4v1h-4zM59 96h2v1h-2zM68 96h4v1h-4zM78 96h1v1h-1zM89 96h10v1h-10zM104 96h1v1h-1zM107 96h1v1h-1zM116 96h1v1h-1zM119 96h2v1h-2zM53 97h2v1h-2zM60 97h2v1h-2zM69 97h2v1h-2zM89 97h1v1h-1zM91 97h8v1h-8zM103 97h2v1h-2zM107 97h2v1h-2zM116 97h1v1h-1zM118 97h3v1h-3zM53 98h2v1h-2zM61 98h3v1h-3zM91 98h8v1h-8zM103 98h2v1h-2zM107 98h2v1h-2zM116 98h4v1h-4zM52 99h1v1h-1zM54 99h1v1h-1zM56 99h1v1h-1zM61 99h3v1h-3zM92 99h7v1h-7zM103 99h2v1h-2zM107 99h3v1h-3zM116 99h3v1h-3zM51 100h1v1h-1zM53 100h2v1h-2zM57 100h7v1h-7zM92 100h7v1h-7zM102 100h3v1h-3zM107 100h3v1h-3zM116 100h4v1h-4zM49 101h1v1h-1zM51 101h5v1h-5zM57 101h6v1h-6zM93 101h1v1h-1zM96 101h3v1h-3zM102 101h3v1h-3zM107 101h3v1h-3zM117 101h3v1h-3zM157 101h1v1h-1zM5 102h1v1h-1zM52 102h1v1h-1zM54 102h6v1h-6zM62 102h1v1h-1zM93 102h2v1h-2zM103 102h2v1h-2zM107 102h3v1h-3zM118 102h1v1h-1zM157 102h1v1h-1zM57 103h4v1h-4zM93 103h1v1h-1zM103 103h7v1h-7zM117 103h2v1h-2zM156 103h2v1h-2zM56 104h2v1h-2zM102 104h8v1h-8zM117 104h2v1h-2zM125 104h3v1h-3zM130 104h1v1h-1zM152 104h6v1h-6zM103 105h2v1h-2zM107 105h3v1h-3zM117 105h1v1h-1zM125 105h1v1h-1zM127 105h1v1h-1zM151 105h4v1h-4zM41 106h2v1h-2zM103 106h1v1h-1zM108 106h1v1h-1zM125 106h5v1h-5zM132 106h1v1h-1zM151 106h3v1h-3zM28 107h1v1h-1zM36 107h8v1h-8zM67 107h1v1h-1zM108 107h1v1h-1zM110 107h2v1h-2zM123 107h5v1h-5zM152 107h2v1h-2zM11 108h1v1h-1zM102 108h2v1h-2zM108 108h1v1h-1zM113 108h1v1h-1zM123 108h7v1h-7zM11 109h1v1h-1zM66 109h2v1h-2zM103 109h6v1h-6zM112 109h2v1h-2zM121 109h9v1h-9zM172 109h2v1h-2zM10 110h1v1h-1zM22 110h2v1h-2zM104 110h1v1h-1zM113 110h4v1h-4zM118 110h12v1h-12zM172 110h2v1h-2zM10 111h1v1h-1zM115 111h2v1h-2zM118 111h10v1h-10zM172 111h2v1h-2zM10 112h2v1h-2zM117 112h11v1h-11zM129 112h1v1h-1zM169 112h3v1h-3zM173 112h1v1h-1zM10 113h1v1h-1zM111 113h1v1h-1zM116 113h13v1h-13zM169 113h5v1h-5z"/>
<path fill="#E6F598" d="M20 0h3v1h-3zM36 0h2v1h-2zM39 0h2v1h-2zM48 0h4v1h-4zM87 0h1v1h-1zM193 0h1v1h-1zM195 0h3v1h-3zM21 1h3v1h-3zM36 1h4v1h-4zM43 1h1v1h-1zM48 1h2v1h-2zM51 1h1v1h-1zM87 1h1v1h-1zM193 1h5v1h-5zM20 2h2v1h-2zM23 2h2v1h-2zM35 2h5v1h-5zM48 2h5v1h-5zM87 2h2v1h-2zM169 2h1v1h-1zM192 2h4v1h-4zM197 2h2v1h-2zM21 3h1v1h-1zM24 3h4v1h-4zM32 3h1v1h-1zM34 3h1v1h-1zM36 3h4v1h-4zM44 3h2v1h-2zM47 3h3v1h-3zM51 3h1v1h-1zM87 3h2v1h-2zM168 3h2v1h-2zM192 3h2v1h-2zM196 3h3v1h-3zM19 4h1v1h-1zM22 4h2v1h-2zM25 4h6v1h-6zM32 4h3v1h-3zM36 4h4v1h-4zM47 4h3v1h-3zM88 4h1v1h-1zM165 4h1v1h-1zM168 4h4v1h-4zM192 4h2v1h-2zM25 5h9v1h-9zM35 5h2v1h-2zM38 5h1v1h-1zM46 5h4v1h-4zM88 5h1v1h-1zM164 5h3v1h-3zM170 5h1v1h-1zM173 5h1v1h-1zM186 5h1v1h-1zM188 5h6v1h-6zM24 6h4v1h-4zM29 6h3v1h-3zM33 6h4v1h-4zM44 6h1v1h-1zM46 6h2v1h-2zM88 6h4v1h-4zM162 6h4v1h-4zM171 6h1v1h-1zM174 6h4v1h-4zM187 6h2v1h-2zM25 7h3v1h-3zM29 7h3v1h-3zM33 7h4v1h-4zM41 7h1v1h-1zM44 7h4v1h-4zM92 7h4v1h-4zM160 7h2v1h-2zM177 7h7v1h-7zM186 7h1v1h-1zM28 8h6v1h-6zM35 8h1v1h-1zM38 8h2v1h-2zM41 8h3v1h-3zM45 8h4v1h-4zM61 8h1v1h-1zM82 8h1v1h-1zM93 8h3v1h-3zM158 8h1v1h-1zM160 8h4v1h-4zM171 8h1v1h-1zM173 8h1v1h-1zM175 8h4v1h-4zM182 8h1v1h-1zM187 8h2v1h-2zM20 9h1v1h-1zM22 9h2v1h-2zM29 9h9v1h-9zM39 9h1v1h-1zM44 9h4v1h-4zM49 9h1v1h-1zM61 9h1v1h-1zM81 9h3v1h-3zM94 9h8v1h-8zM157 9h2v1h-2zM160 9h2v1h-2zM163 9h1v1h-1zM166 9h5v1h-5zM172 9h2v1h-2zM187 9h4v1h-4zM192 9h3v1h-3zM20 10h1v1h-1zM22 10h1v1h-1zM24 10h1v1h-1zM29 10h1v1h-1zM32 10h2v1h-2zM36 10h4v1h-4zM44 10h2v1h-2zM47 10h2v1h-2zM52 10h2v1h-2zM56 10h1v1h-1zM59 10h3v1h-3zM73 10h4v1h-4zM78 10h6v1h-6zM93 10h7v1h-7zM102 10h2v1h-2zM157 10h1v1h-1zM162 10h6v1h-6zM188 10h8v1h-8zM21 11h2v1h-2zM24 11h2v1h-2zM31 11h1v1h-1zM33 11h1v1h-1zM36 11h4v1h-4zM45 11h5v1h-5zM51 11h1v1h-1zM53 11h3v1h-3zM59 11h1v1h-1zM73 11h13v1h-13zM93 11h10v1h-10zM156 11h1v1h-1zM163 11h3v1h-3zM191 11h8v1h-8zM16 12h2v1h-2zM21 12h1v1h-1zM25 12h2v1h-2zM32 12h1v1h-1zM39 12h1v1h-1zM44 12h11v1h-11zM60 12h1v1h-1zM73 12h16v1h-16zM90 12h10v1h-10zM155 12h2v1h-2zM163 12h1v1h-1zM178 12h2v1h-2zM181 12h1v1h-1zM192 12h2v1h-2zM195 12h1v1h-1zM198 12h1v1h-1zM15 13h1v1h-1zM19 13h1v1h-1zM22 13h1v1h-1zM24 13h2v1h-2zM33 13h1v1h-1zM39 13h1v1h-1zM45 13h3v1h-3zM49 13h2v1h-2zM52 13h3v1h-3zM72 13h13v1h-13zM89 13h9v1h-9zM155 13h1v1h-1zM162 13h2v1h-2zM177 13h7v1h-7zM192 13h1v1h-1zM194 13h2v1h-2zM21 14h4v1h-4zM26 14h2v1h-2zM45 14h6v1h-6zM53 14h3v1h-3zM62 14h3v1h-3zM69 14h15v1h-15zM88 14h7v1h-7zM154 14h1v1h-1zM162 14h3v1h-3zM176 14h1v1h-1zM178 14h6v1h-6zM193 14h3v1h-3zM198 14h1v1h-1zM21 15h3v1h-3zM28 15h1v1h-1zM30 15h6v1h-6zM38 15h2v1h-2zM49 15h1v1h-1zM51 15h4v1h-4zM63 15h9v1h-9zM75 15h5v1h-5zM93 15h1v1h-1zM154 15h1v1h-1zM160 15h3v1h-3zM165 15h1v1h-1zM174 15h1v1h-1zM177 15h4v1h-4zM182 15h4v1h-4zM195 15h4v1h-4zM20 16h4v1h-4zM28 16h9v1h-9zM39 16h1v1h-1zM49 16h5v1h-5zM59 16h1v1h-1zM62 16h1v1h-1zM64 16h3v1h-3zM68 16h3v1h-3zM76 16h4v1h-4zM150 16h5v1h-5zM160 16h2v1h-2zM164 16h2v1h-2zM167 16h1v1h-1zM173 16h4v1h-4zM178 16h4v1h-4zM183 16h1v1h-1zM185 16h1v1h-1zM196 16h3v1h-3zM20 17h1v1h-1zM28 17h1v1h-1zM30 17h3v1h-3zM34 17h1v1h-1zM36 17h2v1h-2zM39 17h1v1h-1zM49 17h6v1h-6zM56 17h4v1h-4zM62 17h7v1h-7zM70 17h2v1h-2zM150 17h3v1h-3zM160 17h1v1h-1zM164 17h2v1h-2zM167 17h3v1h-3zM172 17h5v1h-5zM178 17h8v1h-8zM196 17h3v1h-3zM16 18h2v1h-2zM29 18h5v1h-5zM37 18h3v1h-3zM50 18h3v1h-3zM54 18h14v1h-14zM69 18h2v1h-2zM149 18h3v1h-3zM162 18h1v1h-1zM164 18h21v1h-21zM30 19h4v1h-4zM57 19h9v1h-9zM67 19h5v1h-5zM148 19h4v1h-4zM160 19h1v1h-1zM162 19h1v1h-1zM164 19h21v1h-21zM20 20h1v1h-1zM22 20h2v1h-2zM29 20h1v1h-1zM31 20h1v1h-1zM58 20h2v1h-2zM69 20h1v1h-1zM71 20h2v1h-2zM145 20h7v1h-7zM158 20h3v1h-3zM164 20h4v1h-4zM171 20h7v1h-7zM179 20h5v1h-5zM186 20h2v1h-2zM196 20h3v1h-3zM19 21h6v1h-6zM26 21h1v1h-1zM31 21h2v1h-2zM58 21h1v1h-1zM60 21h1v1h-1zM68 21h1v1h-1zM70 21h6v1h-6zM144 21h8v1h-8zM156 21h2v1h-2zM163 21h5v1h-5zM172 21h2v1h-2zM175 21h3v1h-3zM181 21h4v1h-4zM186 21h4v1h-4zM195 21h4v1h-4zM20 22h8v1h-8zM31 22h2v1h-2zM58 22h1v1h-1zM70 22h7v1h-7zM144 22h6v1h-6zM156 22h1v1h-1zM159 22h1v1h-1zM163 22h5v1h-5zM172 22h7v1h-7zM182 22h2v1h-2zM186 22h5v1h-5zM195 22h3v1h-3zM21 23h11v1h-11zM57 23h3v1h-3zM75 23h3v1h-3zM145 23h3v1h-3zM156 23h1v1h-1zM158 23h1v1h-1zM162 23h3v1h-3zM169 23h10v1h-10zM182 23h2v1h-2zM186 23h3v1h-3zM190 23h2v1h-2zM195 23h2v1h-2zM23 24h10v1h-10zM57 24h2v1h-2zM74 24h3v1h-3zM78 24h1v1h-1zM144 24h2v1h-2zM155 24h3v1h-3zM161 24h2v1h-2zM171 24h3v1h-3zM175 24h1v1h-1zM182 24h2v1h-2zM187 24h1v1h-1zM195 24h1v1h-1zM24 25h7v1h-7zM57 25h3v1h-3zM76 25h2v1h-2zM121 25h1v1h-1zM125 25h1v1h-1zM131 25h1v1h-1zM133 25h1v1h-1zM140 25h6v1h-6zM153 25h5v1h-5zM162 25h1v1h-1zM174 25h1v1h-1zM182 25h6v1h-6zM191 25h1v1h-1zM194 25h2v1h-2zM26 26h5v1h-5zM57 26h1v1h-1zM76 26h2v1h-2zM121 26h1v1h-1zM123 26h18v1h-18zM142 26h2v1h-2zM152 26h4v1h-4zM162 26h1v1h-1zM183 26h1v1h-1zM185 26h5v1h-5zM192 26h1v1h-1zM194 26h3v1h-3zM28 27h1v1h-1zM30 27h1v1h-1zM57 27h2v1h-2zM77 27h1v1h-1zM81 27h1v1h-1zM121 27h1v1h-1zM123 27h8v1h-8zM152 27h3v1h-3zM162 27h2v1h-2zM187 27h3v1h-3zM196 27h3v1h-3zM25 28h1v1h-1zM27 28h1v1h-1zM56 28h2v1h-2zM76 28h1v1h-1zM116 28h2v1h-2zM122 28h4v1h-4zM130 28h1v1h-1zM132 28h1v1h-1zM152 28h5v1h-5zM162 28h1v1h-1zM187 28h3v1h-3zM196 28h1v1h-1zM198 28h1v1h-1zM25 29h4v1h-4zM55 29h2v1h-2zM76 29h1v1h-1zM116 29h9v1h-9zM155 29h4v1h-4zM161 29h2v1h-2zM188 29h2v1h-2zM25 30h2v1h-2zM54 30h3v1h-3zM74 30h3v1h-3zM113 30h11v1h-11zM148 30h2v1h-2zM156 30h9v1h-9zM187 30h3v1h-3zM23 31h3v1h-3zM53 31h1v1h-1zM73 31h4v1h-4zM106 31h18v1h-18zM148 31h2v1h-2zM156 31h10v1h-10zM185 31h5v1h-5zM22 32h2v1h-2zM51 32h1v1h-1zM72 32h6v1h-6zM106 32h6v1h-6zM113 32h5v1h-5zM120 32h1v1h-1zM156 32h10v1h-10zM185 32h2v1h-2zM190 32h2v1h-2zM20 33h3v1h-3zM50 33h2v1h-2zM72 33h2v1h-2zM75 33h2v1h-2zM102 33h1v1h-1zM106 33h6v1h-6zM116 33h2v1h-2zM121 33h1v1h-1zM132 33h4v1h-4zM156 33h6v1h-6zM165 33h1v1h-1zM184 33h2v1h-2zM191 33h1v1h-1zM196 33h3v1h-3zM22 34h2v1h-2zM49 34h2v1h-2zM73 34h2v1h-2zM90 34h2v1h-2zM104 34h9v1h-9zM115 34h1v1h-1zM117 34h6v1h-6zM124 34h4v1h-4zM130 34h1v1h-1zM132 34h4v1h-4zM156 34h8v1h-8zM165 34h3v1h-3zM183 34h1v1h-1zM191 34h2v1h-2zM194 34h1v1h-1zM196 34h1v1h-1zM198 34h1v1h-1zM23 35h2v1h-2zM47 35h2v1h-2zM73 35h3v1h-3zM91 35h1v1h-1zM93 35h1v1h-1zM104 35h3v1h-3zM108 35h1v1h-1zM111 35h4v1h-4zM116 35h6v1h-6zM128 35h9v1h-9zM156 35h14v1h-14zM182 35h2v1h-2zM192 35h2v1h-2zM195 35h4v1h-4zM23 36h2v1h-2zM46 36h2v1h-2zM72 36h4v1h-4zM92 36h3v1h-3zM104 36h4v1h-4zM109 36h1v1h-1zM112 36h4v1h-4zM117 36h1v1h-1zM121 36h1v1h-1zM130 36h5v1h-5zM136 36h2v1h-2zM156 36h16v1h-16zM180 36h2v1h-2zM190 36h9v1h-9zM21 37h1v1h-1zM23 37h2v1h-2zM46 37h2v1h-2zM73 37h3v1h-3zM93 37h1v1h-1zM104 37h8v1h-8zM131 37h2v1h-2zM134 37h4v1h-4zM159 37h3v1h-3zM163 37h2v1h-2zM166 37h4v1h-4zM171 37h10v1h-10zM188 37h5v1h-5zM196 37h3v1h-3zM20 38h7v1h-7zM45 38h1v1h-1zM47 38h1v1h-1zM73 38h3v1h-3zM93 38h1v1h-1zM103 38h1v1h-1zM106 38h1v1h-1zM130 38h3v1h-3zM134 38h3v1h-3zM159 38h2v1h-2zM171 38h1v1h-1zM188 38h1v1h-1zM190 38h2v1h-2zM20 39h8v1h-8zM44 39h1v1h-1zM46 39h3v1h-3zM73 39h2v1h-2zM92 39h2v1h-2zM106 39h2v1h-2zM129 39h7v1h-7zM159 39h4v1h-4zM187 39h1v1h-1zM190 39h2v1h-2zM19 40h4v1h-4zM24 40h2v1h-2zM46 40h6v1h-6zM59 40h1v1h-1zM72 40h1v1h-1zM127 40h13v1h-13zM160 40h4v1h-4zM168 40h2v1h-2zM187 40h1v1h-1zM191 40h1v1h-1zM18 41h7v1h-7zM43 41h1v1h-1zM46 41h2v1h-2zM51 41h1v1h-1zM56 41h4v1h-4zM72 41h1v1h-1zM92 41h4v1h-4zM110 41h5v1h-5zM122 41h1v1h-1zM125 41h14v1h-14zM159 41h5v1h-5zM167 41h4v1h-4zM186 41h1v1h-1zM191 41h1v1h-1zM18 42h5v1h-5zM24 42h1v1h-1zM47 42h5v1h-5zM53 42h1v1h-1zM55 42h1v1h-1zM58 42h2v1h-2zM72 42h2v1h-2zM76 42h1v1h-1zM108 42h4v1h-4zM114 42h1v1h-1zM121 42h2v1h-2zM125 42h3v1h-3zM129 42h9v1h-9zM139 42h1v1h-1zM150 42h1v1h-1zM159 42h6v1h-6zM166 42h3v1h-3zM170 42h2v1h-2zM186 42h5v1h-5zM19 43h4v1h-4zM24 43h1v1h-1zM46 43h2v1h-2zM51 43h3v1h-3zM55 43h1v1h-1zM59 43h1v1h-1zM72 43h2v1h-2zM92 43h5v1h-5zM109 43h3v1h-3zM114 43h2v1h-2zM120 43h4v1h-4zM125 43h4v1h-4zM130 43h1v1h-1zM136 43h3v1h-3zM148 43h4v1h-4zM153 43h1v1h-1zM160 43h4v1h-4zM165 43h3v1h-3zM185 43h3v1h-3zM20 44h4v1h-4zM46 44h2v1h-2zM53 44h1v1h-1zM56 44h2v1h-2zM59 44h1v1h-1zM72 44h1v1h-1zM80 44h1v1h-1zM88 44h11v1h-11zM107 44h3v1h-3zM116 44h1v1h-1zM120 44h1v1h-1zM123 44h7v1h-7zM137 44h2v1h-2zM147 44h2v1h-2zM150 44h4v1h-4zM159 44h1v1h-1zM164 44h4v1h-4zM177 44h1v1h-1zM183 44h1v1h-1zM185 44h2v1h-2zM18 45h7v1h-7zM45 45h3v1h-3zM49 45h1v1h-1zM52 45h2v1h-2zM71 45h2v1h-2zM84 45h1v1h-1zM88 45h7v1h-7zM96 45h4v1h-4zM106 45h4v1h-4zM116 45h1v1h-1zM118 45h1v1h-1zM120 45h5v1h-5zM126 45h5v1h-5zM132 45h3v1h-3zM136 45h2v1h-2zM140 45h4v1h-4zM146 45h8v1h-8zM155 45h1v1h-1zM159 45h5v1h-5zM165 45h3v1h-3zM182 45h4v1h-4zM17 46h7v1h-7zM46 46h4v1h-4zM52 46h1v1h-1zM54 46h1v1h-1zM71 46h3v1h-3zM84 46h1v1h-1zM87 46h1v1h-1zM89 46h3v1h-3zM100 46h6v1h-6zM114 46h2v1h-2zM122 46h4v1h-4zM127 46h5v1h-5zM133 46h1v1h-1zM135 46h10v1h-10zM147 46h2v1h-2zM150 46h19v1h-19zM184 46h1v1h-1zM17 47h6v1h-6zM44 47h2v1h-2zM48 47h1v1h-1zM52 47h3v1h-3zM71 47h3v1h-3zM85 47h1v1h-1zM87 47h5v1h-5zM113 47h3v1h-3zM125 47h1v1h-1zM128 47h19v1h-19zM152 47h17v1h-17zM20 48h5v1h-5zM53 48h2v1h-2zM71 48h5v1h-5zM87 48h5v1h-5zM94 48h1v1h-1zM112 48h7v1h-7zM126 48h6v1h-6zM135 48h9v1h-9zM152 48h17v1h-17zM19 49h6v1h-6zM47 49h1v1h-1zM49 49h1v1h-1zM51 49h2v1h-2zM54 49h1v1h-1zM56 49h1v1h-1zM70 49h5v1h-5zM88 49h10v1h-10zM119 49h1v1h-1zM124 49h7v1h-7zM137 49h7v1h-7zM152 49h1v1h-1zM154 49h9v1h-9zM164 49h1v1h-1zM166 49h2v1h-2zM18 50h6v1h-6zM47 50h5v1h-5zM53 50h3v1h-3zM72 50h4v1h-4zM88 50h2v1h-2zM92 50h7v1h-7zM120 50h2v1h-2zM123 50h7v1h-7zM136 50h7v1h-7zM152 50h13v1h-13zM16 51h9v1h-9zM45 51h1v1h-1zM47 51h9v1h-9zM59 51h2v1h-2zM73 51h3v1h-3zM88 51h11v1h-11zM119 51h7v1h-7zM127 51h6v1h-6zM134 51h4v1h-4zM139 51h2v1h-2zM153 51h2v1h-2zM156 51h8v1h-8zM165 51h1v1h-1zM16 52h9v1h-9zM42 52h1v1h-1zM44 52h5v1h-5zM50 52h4v1h-4zM56 52h4v1h-4zM61 52h1v1h-1zM73 52h4v1h-4zM88 52h12v1h-12zM109 52h18v1h-18zM134 52h2v1h-2zM156 52h8v1h-8zM13 53h1v1h-1zM15 53h12v1h-12zM42 53h3v1h-3zM46 53h2v1h-2zM50 53h7v1h-7zM58 53h4v1h-4zM72 53h4v1h-4zM86 53h14v1h-14zM109 53h17v1h-17zM156 53h9v1h-9zM14 54h10v1h-10zM44 54h4v1h-4zM58 54h5v1h-5zM73 54h3v1h-3zM84 54h18v1h-18zM104 54h2v1h-2zM107 54h18v1h-18zM154 54h8v1h-8zM163 54h2v1h-2zM12 55h8v1h-8zM45 55h1v1h-1zM60 55h3v1h-3zM74 55h2v1h-2zM85 55h33v1h-33zM120 55h2v1h-2zM152 55h11v1h-11zM13 56h5v1h-5zM60 56h2v1h-2zM75 56h2v1h-2zM84 56h32v1h-32zM151 56h11v1h-11zM13 57h3v1h-3zM17 57h1v1h-1zM56 57h5v1h-5zM76 57h3v1h-3zM84 57h31v1h-31zM149 57h5v1h-5zM155 57h4v1h-4zM160 57h1v1h-1zM13 58h1v1h-1zM46 58h2v1h-2zM53 58h6v1h-6zM76 58h6v1h-6zM83 58h17v1h-17zM104 58h12v1h-12zM139 58h20v1h-20zM16 59h1v1h-1zM46 59h2v1h-2zM52 59h3v1h-3zM56 59h1v1h-1zM77 59h4v1h-4zM82 59h17v1h-17zM104 59h11v1h-11zM139 59h14v1h-14zM155 59h3v1h-3zM13 60h4v1h-4zM52 60h5v1h-5zM77 60h2v1h-2zM80 60h18v1h-18zM104 60h10v1h-10zM140 60h10v1h-10zM13 61h3v1h-3zM50 61h7v1h-7zM58 61h1v1h-1zM76 61h2v1h-2zM80 61h19v1h-19zM105 61h8v1h-8zM139 61h7v1h-7zM148 61h3v1h-3zM13 62h5v1h-5zM50 62h8v1h-8zM76 62h12v1h-12zM89 62h9v1h-9zM105 62h7v1h-7zM139 62h1v1h-1zM141 62h3v1h-3zM13 63h5v1h-5zM43 63h1v1h-1zM51 63h1v1h-1zM53 63h4v1h-4zM72 63h4v1h-4zM77 63h2v1h-2zM85 63h2v1h-2zM92 63h1v1h-1zM104 63h8v1h-8zM140 63h3v1h-3zM13 64h4v1h-4zM36 64h5v1h-5zM42 64h3v1h-3zM55 64h2v1h-2zM72 64h7v1h-7zM93 64h1v1h-1zM107 64h5v1h-5zM128 64h3v1h-3zM142 64h1v1h-1zM13 65h5v1h-5zM36 65h2v1h-2zM39 65h1v1h-1zM43 65h3v1h-3zM47 65h1v1h-1zM55 65h2v1h-2zM71 65h5v1h-5zM77 65h1v1h-1zM101 65h1v1h-1zM103 65h1v1h-1zM106 65h6v1h-6zM128 65h2v1h-2zM132 65h1v1h-1zM140 65h4v1h-4zM12 66h8v1h-8zM45 66h6v1h-6zM55 66h1v1h-1zM70 66h6v1h-6zM99 66h13v1h-13zM115 66h4v1h-4zM128 66h4v1h-4zM133 66h13v1h-13zM11 67h9v1h-9zM45 67h4v1h-4zM50 67h2v1h-2zM70 67h6v1h-6zM97 67h16v1h-16zM114 67h5v1h-5zM128 67h20v1h-20zM11 68h9v1h-9zM44 68h9v1h-9zM55 68h1v1h-1zM70 68h6v1h-6zM98 68h23v1h-23zM124 68h9v1h-9zM134 68h7v1h-7zM143 68h5v1h-5zM11 69h4v1h-4zM16 69h1v1h-1zM18 69h2v1h-2zM40 69h10v1h-10zM51 69h1v1h-1zM54 69h2v1h-2zM71 69h5v1h-5zM97 69h3v1h-3zM103 69h29v1h-29zM135 69h1v1h-1zM138 69h1v1h-1zM144 69h6v1h-6zM10 70h3v1h-3zM14 70h2v1h-2zM19 70h1v1h-1zM21 70h1v1h-1zM40 70h9v1h-9zM53 70h1v1h-1zM72 70h4v1h-4zM97 70h2v1h-2zM104 70h19v1h-19zM127 70h5v1h-5zM144 70h2v1h-2zM147 70h4v1h-4zM10 71h2v1h-2zM14 71h3v1h-3zM20 71h1v1h-1zM40 71h1v1h-1zM42 71h1v1h-1zM44 71h1v1h-1zM46 71h3v1h-3zM51 71h3v1h-3zM72 71h3v1h-3zM85 71h1v1h-1zM94 71h6v1h-6zM103 71h17v1h-17zM129 71h1v1h-1zM145 71h1v1h-1zM147 71h1v1h-1zM10 72h10v1h-10zM41 72h1v1h-1zM43 72h1v1h-1zM48 72h5v1h-5zM82 72h38v1h-38zM158 72h2v1h-2zM9 73h7v1h-7zM17 73h2v1h-2zM40 73h1v1h-1zM42 73h1v1h-1zM49 73h4v1h-4zM81 73h39v1h-39zM156 73h4v1h-4zM8 74h8v1h-8zM17 74h4v1h-4zM50 74h2v1h-2zM53 74h1v1h-1zM81 74h39v1h-39zM8 75h4v1h-4zM13 75h3v1h-3zM17 75h7v1h-7zM49 75h1v1h-1zM51 75h6v1h-6zM81 75h1v1h-1zM83 75h40v1h-40zM7 76h1v1h-1zM9 76h4v1h-4zM14 76h1v1h-1zM17 76h3v1h-3zM22 76h2v1h-2zM47 76h1v1h-1zM53 76h3v1h-3zM82 76h40v1h-40zM7 77h3v1h-3zM15 77h1v1h-1zM17 77h3v1h-3zM22 77h2v1h-2zM44 77h4v1h-4zM49 77h1v1h-1zM51 77h4v1h-4zM83 77h41v1h-41zM126 77h1v1h-1zM152 77h1v1h-1zM17 78h3v1h-3zM21 78h2v1h-2zM45 78h6v1h-6zM83 78h25v1h-25zM110 78h16v1h-16zM6 79h1v1h-1zM17 79h5v1h-5zM48 79h4v1h-4zM82 79h26v1h-26zM112 79h15v1h-15zM6 80h1v1h-1zM18 80h2v1h-2zM21 80h1v1h-1zM49 80h4v1h-4zM82 80h26v1h-26zM112 80h18v1h-18zM148 80h1v1h-1zM6 81h2v1h-2zM49 81h4v1h-4zM80 81h28v1h-28zM112 81h22v1h-22zM148 81h2v1h-2zM187 81h3v1h-3zM6 82h2v1h-2zM9 82h1v1h-1zM18 82h1v1h-1zM50 82h5v1h-5zM81 82h1v1h-1zM83 82h24v1h-24zM111 82h25v1h-25zM147 82h3v1h-3zM187 82h3v1h-3zM5 83h5v1h-5zM22 83h1v1h-1zM49 83h3v1h-3zM54 83h2v1h-2zM86 83h1v1h-1zM90 83h3v1h-3zM95 83h11v1h-11zM112 83h26v1h-26zM148 83h2v1h-2zM185 83h5v1h-5zM5 84h2v1h-2zM8 84h1v1h-1zM21 84h1v1h-1zM48 84h1v1h-1zM52 84h2v1h-2zM91 84h1v1h-1zM96 84h10v1h-10zM112 84h27v1h-27zM144 84h6v1h-6zM186 84h6v1h-6zM4 85h5v1h-5zM16 85h1v1h-1zM18 85h1v1h-1zM21 85h1v1h-1zM51 85h1v1h-1zM53 85h2v1h-2zM91 85h1v1h-1zM96 85h9v1h-9zM111 85h9v1h-9zM121 85h15v1h-15zM137 85h3v1h-3zM142 85h6v1h-6zM185 85h9v1h-9zM4 86h6v1h-6zM16 86h4v1h-4zM50 86h2v1h-2zM53 86h2v1h-2zM91 86h2v1h-2zM96 86h9v1h-9zM106 86h9v1h-9zM116 86h4v1h-4zM124 86h12v1h-12zM141 86h3v1h-3zM146 86h2v1h-2zM183 86h10v1h-10zM5 87h4v1h-4zM12 87h8v1h-8zM51 87h3v1h-3zM91 87h1v1h-1zM96 87h23v1h-23zM124 87h2v1h-2zM128 87h5v1h-5zM134 87h1v1h-1zM140 87h3v1h-3zM146 87h2v1h-2zM183 87h13v1h-13zM4 88h3v1h-3zM8 88h1v1h-1zM10 88h1v1h-1zM15 88h3v1h-3zM49 88h1v1h-1zM51 88h3v1h-3zM92 88h1v1h-1zM94 88h1v1h-1zM96 88h9v1h-9zM106 88h12v1h-12zM124 88h8v1h-8zM139 88h2v1h-2zM146 88h1v1h-1zM183 88h13v1h-13zM198 88h1v1h-1zM4 89h2v1h-2zM14 89h2v1h-2zM51 89h3v1h-3zM92 89h4v1h-4zM98 89h5v1h-5zM104 89h1v1h-1zM107 89h7v1h-7zM115 89h1v1h-1zM124 89h1v1h-1zM126 89h2v1h-2zM138 89h2v1h-2zM146 89h1v1h-1zM183 89h16v1h-16zM5 90h1v1h-1zM7 90h1v1h-1zM9 90h1v1h-1zM33 90h3v1h-3zM50 90h1v1h-1zM52 90h3v1h-3zM56 90h1v1h-1zM61 90h3v1h-3zM94 90h3v1h-3zM99 90h5v1h-5zM107 90h6v1h-6zM138 90h1v1h-1zM146 90h1v1h-1zM183 90h16v1h-16zM4 91h1v1h-1zM6 91h1v1h-1zM50 91h2v1h-2zM53 91h1v1h-1zM61 91h5v1h-5zM67 91h2v1h-2zM70 91h2v1h-2zM96 91h7v1h-7zM108 91h4v1h-4zM120 91h2v1h-2zM136 91h3v1h-3zM145 91h1v1h-1zM184 91h15v1h-15zM5 92h1v1h-1zM51 92h1v1h-1zM53 92h3v1h-3zM61 92h11v1h-11zM97 92h5v1h-5zM107 92h5v1h-5zM120 92h3v1h-3zM136 92h4v1h-4zM142 92h1v1h-1zM183 92h16v1h-16zM5 93h2v1h-2zM53 93h2v1h-2zM61 93h13v1h-13zM76 93h1v1h-1zM99 93h2v1h-2zM105 93h6v1h-6zM117 93h7v1h-7zM136 93h7v1h-7zM184 93h15v1h-15zM5 94h1v1h-1zM52 94h3v1h-3zM61 94h3v1h-3zM66 94h8v1h-8zM86 94h1v1h-1zM98 94h3v1h-3zM102 94h9v1h-9zM115 94h2v1h-2zM118 94h6v1h-6zM136 94h5v1h-5zM142 94h1v1h-1zM184 94h4v1h-4zM190 94h9v1h-9zM8 95h1v1h-1zM60 95h8v1h-8zM73 95h4v1h-4zM78 95h9v1h-9zM99 95h2v1h-2zM102 95h3v1h-3zM108 95h2v1h-2zM115 95h1v1h-1zM119 95h4v1h-4zM137 95h5v1h-5zM185 95h2v1h-2zM192 95h7v1h-7zM5 96h1v1h-1zM61 96h7v1h-7zM72 96h6v1h-6zM79 96h10v1h-10zM99 96h2v1h-2zM102 96h2v1h-2zM108 96h3v1h-3zM115 96h1v1h-1zM121 96h3v1h-3zM138 96h4v1h-4zM184 96h1v1h-1zM192 96h7v1h-7zM5 97h1v1h-1zM51 97h2v1h-2zM62 97h7v1h-7zM71 97h18v1h-18zM90 97h1v1h-1zM99 97h2v1h-2zM102 97h1v1h-1zM109 97h3v1h-3zM114 97h2v1h-2zM121 97h3v1h-3zM139 97h2v1h-2zM196 97h3v1h-3zM5 98h1v1h-1zM51 98h2v1h-2zM64 98h27v1h-27zM99 98h4v1h-4zM109 98h3v1h-3zM114 98h2v1h-2zM120 98h8v1h-8zM195 98h1v1h-1zM197 98h1v1h-1zM49 99h3v1h-3zM64 99h28v1h-28zM99 99h4v1h-4zM110 99h2v1h-2zM114 99h2v1h-2zM119 99h9v1h-9zM196 99h3v1h-3zM48 100h3v1h-3zM52 100h1v1h-1zM64 100h28v1h-28zM99 100h3v1h-3zM110 100h2v1h-2zM115 100h1v1h-1zM120 100h8v1h-8zM173 100h1v1h-1zM196 100h1v1h-1zM48 101h1v1h-1zM50 101h1v1h-1zM63 101h30v1h-30zM94 101h2v1h-2zM99 101h3v1h-3zM110 101h2v1h-2zM115 101h2v1h-2zM120 101h10v1h-10zM156 101h1v1h-1zM158 101h1v1h-1zM173 101h2v1h-2zM46 102h2v1h-2zM50 102h2v1h-2zM53 102h1v1h-1zM60 102h2v1h-2zM63 102h30v1h-30zM95 102h8v1h-8zM110 102h1v1h-1zM116 102h2v1h-2zM119 102h11v1h-11zM155 102h2v1h-2zM158 102h1v1h-1zM170 102h3v1h-3zM46 103h2v1h-2zM51 103h6v1h-6zM61 103h32v1h-32zM94 103h9v1h-9zM110 103h1v1h-1zM116 103h1v1h-1zM119 103h13v1h-13zM139 103h1v1h-1zM152 103h4v1h-4zM158 103h2v1h-2zM169 103h5v1h-5zM29 104h2v1h-2zM42 104h5v1h-5zM52 104h4v1h-4zM58 104h44v1h-44zM110 104h1v1h-1zM116 104h1v1h-1zM119 104h6v1h-6zM128 104h2v1h-2zM131 104h5v1h-5zM138 104h4v1h-4zM150 104h2v1h-2zM158 104h1v1h-1zM168 104h7v1h-7zM7 105h1v1h-1zM18 105h1v1h-1zM30 105h2v1h-2zM41 105h3v1h-3zM57 105h1v1h-1zM60 105h43v1h-43zM110 105h2v1h-2zM116 105h1v1h-1zM118 105h7v1h-7zM126 105h1v1h-1zM128 105h7v1h-7zM149 105h2v1h-2zM155 105h3v1h-3zM170 105h5v1h-5zM27 106h3v1h-3zM36 106h1v1h-1zM39 106h2v1h-2zM43 106h1v1h-1zM63 106h40v1h-40zM109 106h4v1h-4zM114 106h11v1h-11zM130 106h2v1h-2zM133 106h2v1h-2zM149 106h2v1h-2zM154 106h2v1h-2zM172 106h3v1h-3zM9 107h2v1h-2zM25 107h1v1h-1zM27 107h1v1h-1zM29 107h2v1h-2zM44 107h1v1h-1zM63 107h4v1h-4zM68 107h35v1h-35zM109 107h1v1h-1zM112 107h11v1h-11zM128 107h6v1h-6zM149 107h3v1h-3zM154 107h1v1h-1zM172 107h6v1h-6zM12 108h1v1h-1zM22 108h5v1h-5zM30 108h1v1h-1zM41 108h1v1h-1zM63 108h9v1h-9zM73 108h29v1h-29zM109 108h4v1h-4zM114 108h9v1h-9zM130 108h4v1h-4zM149 108h5v1h-5zM172 108h6v1h-6zM22 109h3v1h-3zM27 109h1v1h-1zM59 109h2v1h-2zM63 109h3v1h-3zM68 109h35v1h-35zM109 109h3v1h-3zM114 109h7v1h-7zM130 109h4v1h-4zM149 109h2v1h-2zM170 109h2v1h-2zM174 109h4v1h-4zM11 110h1v1h-1zM21 110h1v1h-1zM58 110h13v1h-13zM72 110h32v1h-32zM105 110h8v1h-8zM117 110h1v1h-1zM130 110h4v1h-4zM148 110h2v1h-2zM169 110h3v1h-3zM174 110h3v1h-3zM11 111h1v1h-1zM19 111h1v1h-1zM22 111h1v1h-1zM60 111h10v1h-10zM72 111h43v1h-43zM117 111h1v1h-1zM128 111h6v1h-6zM168 111h4v1h-4zM174 111h2v1h-2zM18 112h1v1h-1zM21 112h1v1h-1zM60 112h7v1h-7zM72 112h32v1h-32zM106 112h11v1h-11zM128 112h1v1h-1zM130 112h4v1h-4zM168 112h1v1h-1zM172 112h1v1h-1zM174 112h4v1h-4zM11 113h1v1h-1zM60 113h3v1h-3zM72 113h26v1h-26zM99 113h4v1h-4zM108 113h3v1h-3zM112 113h4v1h-4zM129 113h4v1h-4zM140 113h3v1h-3zM168 113h1v1h-1zM174 113h3v1h-3z"/>
<path fill="#FEE08B" d="M38 0h1v1h-1zM41 0h7v1h-7zM88 0h2v1h-2zM167 0h3v1h-3zM191 0h2v1h-2zM194 0h1v1h-1zM198 0h1v1h-1zM40 1h3v1h-3zM44 1h4v1h-4zM50 1h1v1h-1zM88 1h2v1h-2zM167 1h4v1h-4zM192 1h1v1h-1zM198 1h1v1h-1zM40 2h8v1h-8zM89 2h1v1h-1zM166 2h3v1h-3zM170 2h2v1h-2zM191 2h1v1h-1zM196 2h1v1h-1zM40 3h1v1h-1zM46 3h1v1h-1zM89 3h1v1h-1zM163 3h1v1h-1zM165 3h3v1h-3zM170 3h2v1h-2zM173 3h1v1h-1zM190 3h2v1h-2zM40 4h7v1h-7zM89 4h1v1h-1zM162 4h3v1h-3zM166 4h2v1h-2zM172 4h1v1h-1zM185 4h1v1h-1zM187 4h5v1h-5zM37 5h1v1h-1zM39 5h7v1h-7zM89 5h7v1h-7zM161 5h3v1h-3zM172 5h1v1h-1zM174 5h4v1h-4zM184 5h2v1h-2zM187 5h1v1h-1zM28 6h1v1h-1zM37 6h7v1h-7zM45 6h1v1h-1zM92 6h5v1h-5zM159 6h3v1h-3zM178 6h6v1h-6zM186 6h1v1h-1zM28 7h1v1h-1zM37 7h4v1h-4zM42 7h2v1h-2zM96 7h3v1h-3zM156 7h4v1h-4zM184 7h2v1h-2zM36 8h2v1h-2zM40 8h1v1h-1zM44 8h1v1h-1zM96 8h6v1h-6zM156 8h2v1h-2zM179 8h3v1h-3zM183 8h4v1h-4zM38 9h1v1h-1zM40 9h4v1h-4zM102 9h3v1h-3zM156 9h1v1h-1zM171 9h1v1h-1zM174 9h5v1h-5zM180 9h1v1h-1zM182 9h5v1h-5zM40 10h4v1h-4zM104 10h3v1h-3zM155 10h2v1h-2zM168 10h5v1h-5zM177 10h1v1h-1zM185 10h3v1h-3zM40 11h1v1h-1zM42 11h1v1h-1zM44 11h1v1h-1zM103 11h4v1h-4zM155 11h1v1h-1zM166 11h4v1h-4zM173 11h2v1h-2zM176 11h8v1h-8zM187 11h4v1h-4zM40 12h4v1h-4zM100 12h6v1h-6zM154 12h1v1h-1zM164 12h4v1h-4zM170 12h8v1h-8zM180 12h1v1h-1zM182 12h3v1h-3zM186 12h3v1h-3zM190 12h2v1h-2zM196 12h2v1h-2zM40 13h2v1h-2zM43 13h2v1h-2zM48 13h1v1h-1zM51 13h1v1h-1zM85 13h4v1h-4zM98 13h7v1h-7zM152 13h3v1h-3zM164 13h3v1h-3zM170 13h7v1h-7zM184 13h1v1h-1zM186 13h1v1h-1zM191 13h1v1h-1zM196 13h3v1h-3zM39 14h2v1h-2zM44 14h1v1h-1zM51 14h2v1h-2zM84 14h4v1h-4zM95 14h7v1h-7zM151 14h3v1h-3zM165 14h4v1h-4zM170 14h6v1h-6zM177 14h1v1h-1zM184 14h2v1h-2zM187 14h1v1h-1zM190 14h3v1h-3zM196 14h2v1h-2zM40 15h1v1h-1zM44 15h5v1h-5zM50 15h1v1h-1zM72 15h3v1h-3zM80 15h13v1h-13zM94 15h2v1h-2zM149 15h5v1h-5zM163 15h2v1h-2zM166 15h8v1h-8zM175 15h2v1h-2zM181 15h1v1h-1zM186 15h1v1h-1zM192 15h3v1h-3zM40 16h2v1h-2zM44 16h5v1h-5zM67 16h1v1h-1zM71 16h5v1h-5zM80 16h2v1h-2zM83 16h12v1h-12zM147 16h3v1h-3zM162 16h2v1h-2zM166 16h1v1h-1zM168 16h5v1h-5zM182 16h1v1h-1zM186 16h1v1h-1zM192 16h4v1h-4zM33 17h1v1h-1zM35 17h1v1h-1zM40 17h2v1h-2zM43 17h6v1h-6zM72 17h1v1h-1zM75 17h5v1h-5zM81 17h1v1h-1zM84 17h3v1h-3zM147 17h3v1h-3zM161 17h3v1h-3zM166 17h1v1h-1zM170 17h2v1h-2zM186 17h2v1h-2zM194 17h2v1h-2zM34 18h3v1h-3zM40 18h2v1h-2zM44 18h2v1h-2zM48 18h2v1h-2zM53 18h1v1h-1zM68 18h1v1h-1zM71 18h2v1h-2zM146 18h3v1h-3zM160 18h2v1h-2zM163 18h1v1h-1zM185 18h4v1h-4zM191 18h2v1h-2zM194 18h5v1h-5zM34 19h8v1h-8zM45 19h1v1h-1zM48 19h9v1h-9zM72 19h1v1h-1zM146 19h2v1h-2zM161 19h1v1h-1zM163 19h1v1h-1zM185 19h8v1h-8zM195 19h4v1h-4zM32 20h4v1h-4zM40 20h1v1h-1zM44 20h1v1h-1zM48 20h2v1h-2zM51 20h1v1h-1zM54 20h1v1h-1zM56 20h2v1h-2zM73 20h4v1h-4zM144 20h1v1h-1zM161 20h3v1h-3zM168 20h3v1h-3zM184 20h2v1h-2zM188 20h6v1h-6zM195 20h1v1h-1zM41 21h1v1h-1zM56 21h2v1h-2zM76 21h3v1h-3zM143 21h1v1h-1zM158 21h5v1h-5zM168 21h4v1h-4zM174 21h1v1h-1zM185 21h1v1h-1zM190 21h4v1h-4zM33 22h1v1h-1zM56 22h2v1h-2zM77 22h3v1h-3zM128 22h1v1h-1zM130 22h2v1h-2zM143 22h1v1h-1zM157 22h2v1h-2zM160 22h3v1h-3zM168 22h4v1h-4zM184 22h2v1h-2zM191 22h4v1h-4zM32 23h3v1h-3zM36 23h2v1h-2zM54 23h3v1h-3zM78 23h2v1h-2zM92 23h3v1h-3zM124 23h10v1h-10zM142 23h3v1h-3zM157 23h1v1h-1zM159 23h3v1h-3zM184 23h2v1h-2zM192 23h3v1h-3zM33 24h4v1h-4zM53 24h4v1h-4zM77 24h1v1h-1zM79 24h2v1h-2zM84 24h1v1h-1zM91 24h3v1h-3zM119 24h15v1h-15zM140 24h4v1h-4zM158 24h3v1h-3zM174 24h1v1h-1zM184 24h3v1h-3zM191 24h1v1h-1zM194 24h1v1h-1zM31 25h8v1h-8zM54 25h3v1h-3zM78 25h4v1h-4zM91 25h4v1h-4zM118 25h3v1h-3zM122 25h3v1h-3zM126 25h5v1h-5zM132 25h1v1h-1zM134 25h6v1h-6zM158 25h4v1h-4zM192 25h2v1h-2zM31 26h2v1h-2zM36 26h2v1h-2zM55 26h2v1h-2zM78 26h6v1h-6zM91 26h5v1h-5zM103 26h1v1h-1zM105 26h2v1h-2zM114 26h1v1h-1zM116 26h5v1h-5zM122 26h1v1h-1zM156 26h6v1h-6zM29 27h1v1h-1zM31 27h1v1h-1zM37 27h1v1h-1zM55 27h2v1h-2zM78 27h3v1h-3zM82 27h2v1h-2zM91 27h4v1h-4zM99 27h1v1h-1zM102 27h5v1h-5zM116 27h5v1h-5zM122 27h1v1h-1zM155 27h2v1h-2zM158 27h1v1h-1zM161 27h1v1h-1zM28 28h4v1h-4zM52 28h4v1h-4zM77 28h6v1h-6zM90 28h5v1h-5zM96 28h1v1h-1zM99 28h2v1h-2zM102 28h1v1h-1zM104 28h3v1h-3zM108 28h1v1h-1zM114 28h1v1h-1zM118 28h4v1h-4zM157 28h5v1h-5zM29 29h3v1h-3zM51 29h4v1h-4zM77 29h3v1h-3zM90 29h2v1h-2zM93 29h2v1h-2zM99 29h1v1h-1zM101 29h5v1h-5zM107 29h3v1h-3zM111 29h1v1h-1zM113 29h3v1h-3zM159 29h2v1h-2zM27 30h6v1h-6zM52 30h2v1h-2zM77 30h2v1h-2zM89 30h1v1h-1zM91 30h5v1h-5zM100 30h13v1h-13zM26 31h7v1h-7zM51 31h2v1h-2zM77 31h3v1h-3zM87 31h8v1h-8zM96 31h1v1h-1zM100 31h6v1h-6zM24 32h8v1h-8zM49 32h2v1h-2zM78 32h4v1h-4zM87 32h10v1h-10zM100 32h6v1h-6zM187 32h1v1h-1zM189 32h1v1h-1zM23 33h8v1h-8zM33 33h2v1h-2zM47 33h3v1h-3zM74 33h1v1h-1zM77 33h5v1h-5zM83 33h1v1h-1zM85 33h10v1h-10zM96 33h1v1h-1zM100 33h2v1h-2zM103 33h3v1h-3zM162 33h3v1h-3zM186 33h1v1h-1zM190 33h1v1h-1zM24 34h9v1h-9zM34 34h1v1h-1zM45 34h4v1h-4zM75 34h9v1h-9zM87 34h3v1h-3zM92 34h5v1h-5zM98 34h6v1h-6zM123 34h1v1h-1zM164 34h1v1h-1zM184 34h2v1h-2zM188 34h3v1h-3zM25 35h7v1h-7zM33 35h1v1h-1zM44 35h3v1h-3zM76 35h8v1h-8zM86 35h5v1h-5zM92 35h1v1h-1zM94 35h10v1h-10zM122 35h1v1h-1zM124 35h4v1h-4zM188 35h4v1h-4zM25 36h9v1h-9zM36 36h1v1h-1zM43 36h3v1h-3zM76 36h8v1h-8zM88 36h4v1h-4zM95 36h3v1h-3zM99 36h5v1h-5zM116 36h1v1h-1zM118 36h3v1h-3zM122 36h3v1h-3zM128 36h2v1h-2zM182 36h1v1h-1zM188 36h2v1h-2zM25 37h9v1h-9zM36 37h3v1h-3zM41 37h1v1h-1zM43 37h3v1h-3zM76 37h1v1h-1zM78 37h6v1h-6zM87 37h6v1h-6zM94 37h3v1h-3zM100 37h4v1h-4zM112 37h12v1h-12zM128 37h3v1h-3zM162 37h1v1h-1zM165 37h1v1h-1zM170 37h1v1h-1zM181 37h1v1h-1zM187 37h1v1h-1zM193 37h3v1h-3zM27 38h7v1h-7zM35 38h10v1h-10zM46 38h1v1h-1zM76 38h2v1h-2zM87 38h6v1h-6zM94 38h1v1h-1zM102 38h1v1h-1zM104 38h2v1h-2zM107 38h5v1h-5zM117 38h7v1h-7zM127 38h3v1h-3zM161 38h10v1h-10zM172 38h5v1h-5zM178 38h1v1h-1zM186 38h2v1h-2zM192 38h7v1h-7zM28 39h6v1h-6zM35 39h9v1h-9zM45 39h1v1h-1zM75 39h3v1h-3zM87 39h5v1h-5zM94 39h2v1h-2zM102 39h4v1h-4zM108 39h4v1h-4zM117 39h5v1h-5zM126 39h3v1h-3zM163 39h2v1h-2zM167 39h9v1h-9zM186 39h1v1h-1zM192 39h7v1h-7zM23 40h1v1h-1zM26 40h9v1h-9zM36 40h10v1h-10zM73 40h6v1h-6zM86 40h10v1h-10zM103 40h7v1h-7zM111 40h3v1h-3zM115 40h2v1h-2zM121 40h3v1h-3zM125 40h2v1h-2zM164 40h4v1h-4zM170 40h6v1h-6zM186 40h1v1h-1zM192 40h1v1h-1zM194 40h5v1h-5zM25 41h10v1h-10zM36 41h7v1h-7zM44 41h2v1h-2zM48 41h3v1h-3zM73 41h6v1h-6zM81 41h3v1h-3zM86 41h6v1h-6zM96 41h3v1h-3zM107 41h3v1h-3zM115 41h3v1h-3zM120 41h2v1h-2zM123 41h1v1h-1zM164 41h3v1h-3zM171 41h5v1h-5zM185 41h1v1h-1zM192 41h7v1h-7zM23 42h1v1h-1zM25 42h10v1h-10zM36 42h11v1h-11zM74 42h2v1h-2zM77 42h5v1h-5zM83 42h2v1h-2zM87 42h12v1h-12zM104 42h1v1h-1zM106 42h2v1h-2zM115 42h3v1h-3zM120 42h1v1h-1zM123 42h1v1h-1zM169 42h1v1h-1zM172 42h1v1h-1zM174 42h1v1h-1zM184 42h2v1h-2zM191 42h8v1h-8zM23 43h1v1h-1zM25 43h9v1h-9zM35 43h1v1h-1zM37 43h9v1h-9zM74 43h8v1h-8zM83 43h1v1h-1zM85 43h7v1h-7zM97 43h4v1h-4zM104 43h5v1h-5zM116 43h2v1h-2zM168 43h9v1h-9zM178 43h2v1h-2zM182 43h3v1h-3zM188 43h3v1h-3zM194 43h1v1h-1zM197 43h1v1h-1zM24 44h9v1h-9zM36 44h10v1h-10zM73 44h7v1h-7zM81 44h7v1h-7zM99 44h6v1h-6zM106 44h1v1h-1zM117 44h2v1h-2zM149 44h1v1h-1zM168 44h4v1h-4zM173 44h4v1h-4zM178 44h2v1h-2zM181 44h2v1h-2zM187 44h1v1h-1zM25 45h9v1h-9zM35 45h10v1h-10zM73 45h11v1h-11zM85 45h3v1h-3zM100 45h6v1h-6zM117 45h1v1h-1zM125 45h1v1h-1zM168 45h2v1h-2zM171 45h5v1h-5zM177 45h2v1h-2zM180 45h2v1h-2zM186 45h2v1h-2zM24 46h9v1h-9zM34 46h12v1h-12zM50 46h2v1h-2zM74 46h10v1h-10zM85 46h2v1h-2zM88 46h1v1h-1zM116 46h6v1h-6zM126 46h1v1h-1zM169 46h2v1h-2zM179 46h5v1h-5zM185 46h2v1h-2zM23 47h9v1h-9zM33 47h11v1h-11zM46 47h2v1h-2zM49 47h3v1h-3zM74 47h11v1h-11zM86 47h1v1h-1zM116 47h1v1h-1zM118 47h1v1h-1zM122 47h3v1h-3zM126 47h2v1h-2zM169 47h2v1h-2zM180 47h6v1h-6zM196 47h1v1h-1zM25 48h28v1h-28zM76 48h11v1h-11zM119 48h2v1h-2zM122 48h4v1h-4zM132 48h3v1h-3zM169 48h3v1h-3zM181 48h1v1h-1zM196 48h1v1h-1zM198 48h1v1h-1zM25 49h22v1h-22zM48 49h1v1h-1zM50 49h1v1h-1zM53 49h1v1h-1zM75 49h13v1h-13zM120 49h4v1h-4zM131 49h6v1h-6zM153 49h1v1h-1zM163 49h1v1h-1zM165 49h1v1h-1zM168 49h3v1h-3zM197 49h2v1h-2zM24 50h23v1h-23zM52 50h1v1h-1zM76 50h12v1h-12zM90 50h2v1h-2zM122 50h1v1h-1zM130 50h6v1h-6zM165 50h6v1h-6zM195 50h1v1h-1zM197 50h2v1h-2zM25 51h20v1h-20zM46 51h1v1h-1zM76 51h12v1h-12zM133 51h1v1h-1zM164 51h1v1h-1zM166 51h3v1h-3zM25 52h17v1h-17zM43 52h1v1h-1zM49 52h1v1h-1zM77 52h11v1h-11zM164 52h4v1h-4zM27 53h15v1h-15zM48 53h2v1h-2zM57 53h1v1h-1zM76 53h10v1h-10zM165 53h3v1h-3zM24 54h9v1h-9zM35 54h9v1h-9zM48 54h10v1h-10zM76 54h8v1h-8zM162 54h1v1h-1zM165 54h2v1h-2zM20 55h12v1h-12zM36 55h9v1h-9zM46 55h3v1h-3zM59 55h1v1h-1zM76 55h9v1h-9zM163 55h5v1h-5zM18 56h14v1h-14zM36 56h13v1h-13zM56 56h4v1h-4zM77 56h7v1h-7zM162 56h5v1h-5zM16 57h1v1h-1zM18 57h14v1h-14zM38 57h2v1h-2zM41 57h8v1h-8zM53 57h3v1h-3zM79 57h5v1h-5zM154 57h1v1h-1zM159 57h1v1h-1zM161 57h5v1h-5zM14 58h15v1h-15zM42 58h4v1h-4zM48 58h5v1h-5zM82 58h1v1h-1zM159 58h5v1h-5zM13 59h3v1h-3zM17 59h12v1h-12zM32 59h1v1h-1zM41 59h5v1h-5zM48 59h4v1h-4zM81 59h1v1h-1zM153 59h2v1h-2zM158 59h5v1h-5zM17 60h18v1h-18zM36 60h1v1h-1zM41 60h11v1h-11zM79 60h1v1h-1zM150 60h14v1h-14zM16 61h22v1h-22zM39 61h11v1h-11zM78 61h2v1h-2zM146 61h2v1h-2zM151 61h13v1h-13zM18 62h32v1h-32zM144 62h19v1h-19zM18 63h25v1h-25zM44 63h7v1h-7zM52 63h1v1h-1zM143 63h12v1h-12zM17 64h19v1h-19zM41 64h1v1h-1zM45 64h10v1h-10zM143 64h10v1h-10zM18 65h6v1h-6zM28 65h8v1h-8zM38 65h1v1h-1zM40 65h3v1h-3zM46 65h1v1h-1zM48 65h7v1h-7zM144 65h8v1h-8zM20 66h3v1h-3zM30 66h15v1h-15zM51 66h4v1h-4zM146 66h8v1h-8zM156 66h1v1h-1zM160 66h4v1h-4zM20 67h1v1h-1zM31 67h1v1h-1zM33 67h7v1h-7zM42 67h3v1h-3zM52 67h1v1h-1zM54 67h2v1h-2zM148 67h4v1h-4zM157 67h8v1h-8zM20 68h2v1h-2zM32 68h12v1h-12zM53 68h2v1h-2zM133 68h1v1h-1zM141 68h2v1h-2zM148 68h5v1h-5zM156 68h10v1h-10zM15 69h1v1h-1zM17 69h1v1h-1zM20 69h7v1h-7zM29 69h1v1h-1zM31 69h6v1h-6zM38 69h2v1h-2zM50 69h1v1h-1zM52 69h2v1h-2zM132 69h3v1h-3zM136 69h2v1h-2zM139 69h5v1h-5zM150 69h3v1h-3zM156 69h11v1h-11zM13 70h1v1h-1zM16 70h3v1h-3zM20 70h1v1h-1zM22 70h18v1h-18zM49 70h4v1h-4zM123 70h4v1h-4zM132 70h12v1h-12zM146 70h1v1h-1zM151 70h2v1h-2zM154 70h15v1h-15zM12 71h2v1h-2zM17 71h3v1h-3zM21 71h8v1h-8zM32 71h1v1h-1zM36 71h2v1h-2zM39 71h1v1h-1zM41 71h1v1h-1zM43 71h1v1h-1zM45 71h1v1h-1zM49 71h2v1h-2zM120 71h9v1h-9zM130 71h15v1h-15zM146 71h1v1h-1zM148 71h5v1h-5zM154 71h15v1h-15zM20 72h1v1h-1zM22 72h1v1h-1zM24 72h3v1h-3zM28 72h3v1h-3zM35 72h1v1h-1zM40 72h1v1h-1zM42 72h1v1h-1zM44 72h1v1h-1zM46 72h2v1h-2zM120 72h38v1h-38zM160 72h10v1h-10zM16 73h1v1h-1zM19 73h3v1h-3zM23 73h1v1h-1zM25 73h3v1h-3zM41 73h1v1h-1zM43 73h1v1h-1zM46 73h3v1h-3zM120 73h32v1h-32zM153 73h3v1h-3zM160 73h10v1h-10zM16 74h1v1h-1zM21 74h4v1h-4zM40 74h2v1h-2zM46 74h4v1h-4zM120 74h48v1h-48zM178 74h1v1h-1zM180 74h1v1h-1zM182 74h4v1h-4zM12 75h1v1h-1zM16 75h1v1h-1zM44 75h5v1h-5zM50 75h1v1h-1zM123 75h45v1h-45zM177 75h10v1h-10zM13 76h1v1h-1zM15 76h2v1h-2zM43 76h4v1h-4zM48 76h5v1h-5zM122 76h46v1h-46zM177 76h11v1h-11zM10 77h5v1h-5zM16 77h1v1h-1zM37 77h2v1h-2zM42 77h2v1h-2zM48 77h1v1h-1zM50 77h1v1h-1zM124 77h2v1h-2zM127 77h25v1h-25zM153 77h7v1h-7zM162 77h4v1h-4zM167 77h1v1h-1zM176 77h12v1h-12zM7 78h3v1h-3zM11 78h6v1h-6zM23 78h1v1h-1zM38 78h7v1h-7zM108 78h2v1h-2zM126 78h30v1h-30zM175 78h14v1h-14zM7 79h3v1h-3zM11 79h1v1h-1zM14 79h3v1h-3zM22 79h2v1h-2zM42 79h6v1h-6zM108 79h4v1h-4zM127 79h28v1h-28zM175 79h15v1h-15zM7 80h4v1h-4zM13 80h2v1h-2zM16 80h2v1h-2zM20 80h1v1h-1zM22 80h2v1h-2zM47 80h2v1h-2zM108 80h4v1h-4zM130 80h18v1h-18zM149 80h4v1h-4zM173 80h18v1h-18zM8 81h16v1h-16zM48 81h1v1h-1zM108 81h4v1h-4zM134 81h14v1h-14zM150 81h2v1h-2zM171 81h16v1h-16zM190 81h2v1h-2zM8 82h1v1h-1zM10 82h8v1h-8zM19 82h5v1h-5zM25 82h1v1h-1zM48 82h2v1h-2zM107 82h4v1h-4zM136 82h11v1h-11zM150 82h2v1h-2zM171 82h16v1h-16zM190 82h2v1h-2zM10 83h12v1h-12zM23 83h3v1h-3zM48 83h1v1h-1zM52 83h2v1h-2zM93 83h2v1h-2zM106 83h6v1h-6zM138 83h10v1h-10zM150 83h2v1h-2zM170 83h15v1h-15zM190 83h3v1h-3zM7 84h1v1h-1zM9 84h5v1h-5zM16 84h5v1h-5zM22 84h5v1h-5zM49 84h3v1h-3zM92 84h4v1h-4zM106 84h6v1h-6zM139 84h5v1h-5zM150 84h2v1h-2zM171 84h15v1h-15zM192 84h2v1h-2zM9 85h7v1h-7zM17 85h1v1h-1zM19 85h2v1h-2zM22 85h4v1h-4zM48 85h3v1h-3zM52 85h1v1h-1zM92 85h4v1h-4zM105 85h6v1h-6zM120 85h1v1h-1zM136 85h1v1h-1zM140 85h2v1h-2zM148 85h3v1h-3zM171 85h1v1h-1zM173 85h12v1h-12zM194 85h2v1h-2zM10 86h6v1h-6zM20 86h6v1h-6zM44 86h3v1h-3zM48 86h2v1h-2zM52 86h1v1h-1zM94 86h2v1h-2zM105 86h1v1h-1zM120 86h4v1h-4zM136 86h5v1h-5zM148 86h1v1h-1zM176 86h7v1h-7zM193 86h4v1h-4zM9 87h3v1h-3zM20 87h7v1h-7zM41 87h1v1h-1zM44 87h1v1h-1zM46 87h1v1h-1zM48 87h3v1h-3zM92 87h1v1h-1zM94 87h2v1h-2zM119 87h5v1h-5zM133 87h1v1h-1zM135 87h2v1h-2zM138 87h2v1h-2zM153 87h2v1h-2zM175 87h8v1h-8zM196 87h3v1h-3zM7 88h1v1h-1zM9 88h1v1h-1zM11 88h4v1h-4zM18 88h2v1h-2zM22 88h1v1h-1zM24 88h1v1h-1zM30 88h2v1h-2zM33 88h3v1h-3zM45 88h1v1h-1zM48 88h1v1h-1zM50 88h1v1h-1zM93 88h1v1h-1zM95 88h1v1h-1zM105 88h1v1h-1zM118 88h6v1h-6zM132 88h7v1h-7zM147 88h1v1h-1zM176 88h7v1h-7zM196 88h2v1h-2zM6 89h8v1h-8zM16 89h2v1h-2zM19 89h1v1h-1zM22 89h1v1h-1zM24 89h1v1h-1zM28 89h1v1h-1zM31 89h7v1h-7zM48 89h3v1h-3zM96 89h2v1h-2zM103 89h1v1h-1zM105 89h2v1h-2zM114 89h1v1h-1zM116 89h8v1h-8zM125 89h1v1h-1zM128 89h10v1h-10zM147 89h1v1h-1zM176 89h7v1h-7zM6 90h1v1h-1zM8 90h1v1h-1zM10 90h6v1h-6zM32 90h1v1h-1zM36 90h1v1h-1zM47 90h3v1h-3zM51 90h1v1h-1zM97 90h2v1h-2zM104 90h3v1h-3zM113 90h25v1h-25zM178 90h5v1h-5zM7 91h10v1h-10zM33 91h4v1h-4zM49 91h1v1h-1zM52 91h1v1h-1zM103 91h5v1h-5zM112 91h8v1h-8zM122 91h14v1h-14zM146 91h1v1h-1zM178 91h6v1h-6zM6 92h4v1h-4zM12 92h8v1h-8zM49 92h2v1h-2zM52 92h1v1h-1zM102 92h5v1h-5zM112 92h8v1h-8zM123 92h13v1h-13zM145 92h1v1h-1zM181 92h2v1h-2zM7 93h2v1h-2zM14 93h8v1h-8zM51 93h2v1h-2zM101 93h4v1h-4zM111 93h6v1h-6zM124 93h12v1h-12zM143 93h2v1h-2zM181 93h3v1h-3zM6 94h4v1h-4zM11 94h1v1h-1zM16 94h3v1h-3zM64 94h2v1h-2zM101 94h1v1h-1zM111 94h4v1h-4zM124 94h8v1h-8zM134 94h2v1h-2zM143 94h1v1h-1zM182 94h2v1h-2zM188 94h2v1h-2zM5 95h3v1h-3zM9 95h2v1h-2zM18 95h4v1h-4zM50 95h2v1h-2zM101 95h1v1h-1zM110 95h5v1h-5zM123 95h9v1h-9zM134 95h3v1h-3zM142 95h1v1h-1zM182 95h3v1h-3zM187 95h5v1h-5zM6 96h4v1h-4zM18 96h3v1h-3zM22 96h1v1h-1zM49 96h3v1h-3zM101 96h1v1h-1zM111 96h4v1h-4zM124 96h8v1h-8zM134 96h4v1h-4zM142 96h1v1h-1zM180 96h1v1h-1zM182 96h2v1h-2zM185 96h7v1h-7zM6 97h3v1h-3zM12 97h1v1h-1zM22 97h1v1h-1zM49 97h2v1h-2zM101 97h1v1h-1zM112 97h2v1h-2zM124 97h8v1h-8zM134 97h5v1h-5zM141 97h2v1h-2zM171 97h1v1h-1zM176 97h20v1h-20zM6 98h5v1h-5zM20 98h3v1h-3zM50 98h1v1h-1zM112 98h2v1h-2zM128 98h3v1h-3zM135 98h7v1h-7zM170 98h25v1h-25zM196 98h1v1h-1zM198 98h1v1h-1zM5 99h4v1h-4zM10 99h1v1h-1zM21 99h2v1h-2zM48 99h1v1h-1zM112 99h2v1h-2zM128 99h4v1h-4zM135 99h6v1h-6zM168 99h28v1h-28zM5 100h2v1h-2zM19 100h2v1h-2zM38 100h1v1h-1zM46 100h2v1h-2zM112 100h3v1h-3zM128 100h5v1h-5zM135 100h6v1h-6zM155 100h5v1h-5zM168 100h5v1h-5zM174 100h12v1h-12zM187 100h9v1h-9zM197 100h2v1h-2zM5 101h1v1h-1zM17 101h2v1h-2zM47 101h1v1h-1zM112 101h3v1h-3zM130 101h2v1h-2zM135 101h5v1h-5zM155 101h1v1h-1zM159 101h2v1h-2zM168 101h5v1h-5zM175 101h10v1h-10zM186 101h13v1h-13zM25 102h3v1h-3zM44 102h2v1h-2zM48 102h2v1h-2zM111 102h2v1h-2zM114 102h2v1h-2zM130 102h12v1h-12zM152 102h3v1h-3zM159 102h3v1h-3zM167 102h3v1h-3zM173 102h12v1h-12zM186 102h13v1h-13zM7 103h2v1h-2zM15 103h3v1h-3zM29 103h2v1h-2zM32 103h1v1h-1zM43 103h3v1h-3zM48 103h3v1h-3zM111 103h2v1h-2zM114 103h2v1h-2zM132 103h7v1h-7zM140 103h3v1h-3zM148 103h4v1h-4zM160 103h2v1h-2zM166 103h3v1h-3zM174 103h11v1h-11zM186 103h13v1h-13zM7 104h2v1h-2zM12 104h1v1h-1zM14 104h6v1h-6zM27 104h2v1h-2zM31 104h5v1h-5zM40 104h2v1h-2zM47 104h2v1h-2zM50 104h2v1h-2zM111 104h2v1h-2zM115 104h1v1h-1zM136 104h2v1h-2zM142 104h1v1h-1zM148 104h2v1h-2zM159 104h2v1h-2zM162 104h1v1h-1zM166 104h2v1h-2zM175 104h10v1h-10zM186 104h13v1h-13zM8 105h1v1h-1zM12 105h6v1h-6zM19 105h1v1h-1zM27 105h3v1h-3zM32 105h1v1h-1zM35 105h6v1h-6zM44 105h3v1h-3zM52 105h1v1h-1zM54 105h3v1h-3zM58 105h2v1h-2zM112 105h4v1h-4zM135 105h8v1h-8zM148 105h1v1h-1zM158 105h2v1h-2zM166 105h4v1h-4zM175 105h11v1h-11zM188 105h11v1h-11zM8 106h4v1h-4zM17 106h3v1h-3zM23 106h4v1h-4zM30 106h3v1h-3zM34 106h2v1h-2zM37 106h2v1h-2zM44 106h2v1h-2zM48 106h1v1h-1zM59 106h4v1h-4zM113 106h1v1h-1zM135 106h2v1h-2zM148 106h1v1h-1zM156 106h2v1h-2zM169 106h3v1h-3zM175 106h13v1h-13zM189 106h10v1h-10zM11 107h1v1h-1zM16 107h1v1h-1zM23 107h2v1h-2zM26 107h1v1h-1zM31 107h2v1h-2zM35 107h1v1h-1zM61 107h2v1h-2zM134 107h2v1h-2zM147 107h2v1h-2zM155 107h1v1h-1zM170 107h2v1h-2zM178 107h11v1h-11zM190 107h9v1h-9zM13 108h1v1h-1zM15 108h1v1h-1zM19 108h3v1h-3zM27 108h3v1h-3zM31 108h1v1h-1zM36 108h5v1h-5zM58 108h5v1h-5zM72 108h1v1h-1zM134 108h2v1h-2zM148 108h1v1h-1zM154 108h3v1h-3zM170 108h2v1h-2zM178 108h12v1h-12zM191 108h8v1h-8zM12 109h3v1h-3zM18 109h2v1h-2zM21 109h1v1h-1zM25 109h2v1h-2zM57 109h2v1h-2zM61 109h2v1h-2zM134 109h2v1h-2zM148 109h1v1h-1zM151 109h2v1h-2zM154 109h4v1h-4zM167 109h3v1h-3zM178 109h12v1h-12zM192 109h7v1h-7zM12 110h1v1h-1zM19 110h2v1h-2zM24 110h2v1h-2zM37 110h1v1h-1zM55 110h1v1h-1zM57 110h1v1h-1zM71 110h1v1h-1zM134 110h1v1h-1zM147 110h1v1h-1zM150 110h2v1h-2zM156 110h3v1h-3zM166 110h3v1h-3zM177 110h22v1h-22zM20 111h2v1h-2zM23 111h2v1h-2zM56 111h4v1h-4zM70 111h2v1h-2zM134 111h2v1h-2zM141 111h3v1h-3zM147 111h3v1h-3zM156 111h2v1h-2zM166 111h2v1h-2zM176 111h23v1h-23zM12 112h1v1h-1zM17 112h1v1h-1zM19 112h2v1h-2zM56 112h4v1h-4zM67 112h5v1h-5zM104 112h2v1h-2zM134 112h2v1h-2zM140 112h4v1h-4zM148 112h3v1h-3zM155 112h4v1h-4zM167 112h1v1h-1zM178 112h8v1h-8zM187 112h6v1h-6zM194 112h1v1h-1zM198 112h1v1h-1zM12 113h2v1h-2zM16 113h7v1h-7zM58 113h2v1h-2zM63 113h6v1h-6zM70 113h2v1h-2zM98 113h1v1h-1zM103 113h5v1h-5zM133 113h3v1h-3zM139 113h1v1h-1zM143 113h2v1h-2zM155 113h4v1h-4zM166 113h2v1h-2zM177 113h7v1h-7zM188 113h11v1h-11z"/>
<path fill="#FDAE61" d="M90 0h2v1h-2zM113 0h6v1h-6zM163 0h4v1h-4zM170 0h2v1h-2zM190 0h1v1h-1zM90 1h2v1h-2zM112 1h7v1h-7zM163 1h1v1h-1zM165 1h2v1h-2zM171 1h1v1h-1zM190 1h2v1h-2zM90 2h2v1h-2zM112 2h1v1h-1zM114 2h5v1h-5zM161 2h5v1h-5zM172 2h1v1h-1zM189 2h2v1h-2zM41 3h3v1h-3zM90 3h3v1h-3zM115 3h1v1h-1zM117 3h1v1h-1zM159 3h1v1h-1zM162 3h1v1h-1zM164 3h1v1h-1zM172 3h1v1h-1zM174 3h1v1h-1zM188 3h2v1h-2zM90 4h6v1h-6zM161 4h1v1h-1zM173 4h5v1h-5zM183 4h2v1h-2zM186 4h1v1h-1zM96 5h4v1h-4zM158 5h3v1h-3zM178 5h6v1h-6zM97 6h7v1h-7zM155 6h4v1h-4zM184 6h2v1h-2zM99 7h5v1h-5zM154 7h2v1h-2zM102 8h2v1h-2zM155 8h1v1h-1zM105 9h3v1h-3zM155 9h1v1h-1zM179 9h1v1h-1zM181 9h1v1h-1zM107 10h1v1h-1zM154 10h1v1h-1zM173 10h2v1h-2zM178 10h1v1h-1zM41 11h1v1h-1zM43 11h1v1h-1zM107 11h1v1h-1zM153 11h2v1h-2zM170 11h3v1h-3zM175 11h1v1h-1zM186 11h1v1h-1zM106 12h2v1h-2zM152 12h2v1h-2zM168 12h2v1h-2zM189 12h1v1h-1zM42 13h1v1h-1zM105 13h2v1h-2zM139 13h5v1h-5zM167 13h3v1h-3zM187 13h4v1h-4zM41 14h3v1h-3zM102 14h5v1h-5zM139 14h5v1h-5zM149 14h2v1h-2zM169 14h1v1h-1zM41 15h1v1h-1zM43 15h1v1h-1zM96 15h10v1h-10zM138 15h11v1h-11zM190 15h2v1h-2zM42 16h2v1h-2zM82 16h1v1h-1zM95 16h2v1h-2zM98 16h5v1h-5zM138 16h9v1h-9zM187 16h1v1h-1zM42 17h1v1h-1zM73 17h2v1h-2zM80 17h1v1h-1zM82 17h2v1h-2zM87 17h9v1h-9zM141 17h1v1h-1zM143 17h4v1h-4zM188 17h4v1h-4zM42 18h2v1h-2zM46 18h2v1h-2zM73 18h16v1h-16zM145 18h1v1h-1zM189 18h2v1h-2zM42 19h3v1h-3zM46 19h2v1h-2zM73 19h9v1h-9zM83 19h4v1h-4zM144 19h2v1h-2zM36 20h4v1h-4zM41 20h3v1h-3zM45 20h3v1h-3zM50 20h1v1h-1zM52 20h2v1h-2zM55 20h1v1h-1zM77 20h5v1h-5zM84 20h1v1h-1zM93 20h1v1h-1zM142 20h2v1h-2zM33 21h8v1h-8zM42 21h4v1h-4zM47 21h9v1h-9zM79 21h2v1h-2zM92 21h3v1h-3zM125 21h10v1h-10zM142 21h1v1h-1zM34 22h22v1h-22zM80 22h1v1h-1zM82 22h2v1h-2zM90 22h6v1h-6zM121 22h1v1h-1zM123 22h5v1h-5zM129 22h1v1h-1zM132 22h3v1h-3zM140 22h3v1h-3zM35 23h1v1h-1zM38 23h16v1h-16zM80 23h6v1h-6zM90 23h2v1h-2zM95 23h2v1h-2zM112 23h4v1h-4zM117 23h7v1h-7zM134 23h2v1h-2zM140 23h2v1h-2zM37 24h16v1h-16zM81 24h3v1h-3zM85 24h6v1h-6zM94 24h3v1h-3zM103 24h2v1h-2zM106 24h1v1h-1zM110 24h9v1h-9zM134 24h3v1h-3zM138 24h2v1h-2zM192 24h2v1h-2zM39 25h15v1h-15zM82 25h7v1h-7zM90 25h1v1h-1zM95 25h3v1h-3zM99 25h2v1h-2zM102 25h6v1h-6zM111 25h7v1h-7zM33 26h3v1h-3zM38 26h17v1h-17zM84 26h4v1h-4zM90 26h1v1h-1zM96 26h1v1h-1zM99 26h4v1h-4zM104 26h1v1h-1zM107 26h3v1h-3zM111 26h3v1h-3zM115 26h1v1h-1zM32 27h5v1h-5zM38 27h17v1h-17zM84 27h3v1h-3zM89 27h2v1h-2zM95 27h2v1h-2zM98 27h1v1h-1zM100 27h2v1h-2zM107 27h9v1h-9zM157 27h1v1h-1zM159 27h2v1h-2zM32 28h2v1h-2zM35 28h17v1h-17zM83 28h3v1h-3zM88 28h2v1h-2zM95 28h1v1h-1zM98 28h1v1h-1zM101 28h1v1h-1zM103 28h1v1h-1zM107 28h1v1h-1zM109 28h5v1h-5zM115 28h1v1h-1zM32 29h19v1h-19zM80 29h2v1h-2zM87 29h3v1h-3zM92 29h1v1h-1zM95 29h2v1h-2zM98 29h1v1h-1zM100 29h1v1h-1zM106 29h1v1h-1zM110 29h1v1h-1zM112 29h1v1h-1zM33 30h19v1h-19zM79 30h4v1h-4zM86 30h3v1h-3zM90 30h1v1h-1zM96 30h1v1h-1zM98 30h2v1h-2zM33 31h18v1h-18zM80 31h4v1h-4zM86 31h1v1h-1zM95 31h1v1h-1zM97 31h2v1h-2zM32 32h17v1h-17zM82 32h5v1h-5zM97 32h2v1h-2zM31 33h2v1h-2zM35 33h12v1h-12zM82 33h1v1h-1zM84 33h1v1h-1zM95 33h1v1h-1zM97 33h1v1h-1zM188 33h2v1h-2zM33 34h1v1h-1zM35 34h10v1h-10zM84 34h3v1h-3zM97 34h1v1h-1zM186 34h1v1h-1zM32 35h1v1h-1zM34 35h5v1h-5zM40 35h4v1h-4zM84 35h2v1h-2zM123 35h1v1h-1zM184 35h1v1h-1zM187 35h1v1h-1zM34 36h2v1h-2zM37 36h6v1h-6zM85 36h3v1h-3zM125 36h3v1h-3zM183 36h2v1h-2zM187 36h1v1h-1zM34 37h2v1h-2zM39 37h2v1h-2zM42 37h1v1h-1zM77 37h1v1h-1zM85 37h2v1h-2zM97 37h2v1h-2zM124 37h4v1h-4zM182 37h2v1h-2zM34 38h1v1h-1zM78 38h6v1h-6zM86 38h1v1h-1zM95 38h4v1h-4zM100 38h2v1h-2zM112 38h5v1h-5zM124 38h3v1h-3zM177 38h1v1h-1zM179 38h5v1h-5zM34 39h1v1h-1zM78 39h6v1h-6zM85 39h2v1h-2zM96 39h4v1h-4zM101 39h1v1h-1zM112 39h2v1h-2zM115 39h1v1h-1zM122 39h4v1h-4zM165 39h2v1h-2zM176 39h1v1h-1zM178 39h1v1h-1zM180 39h4v1h-4zM185 39h1v1h-1zM35 40h1v1h-1zM79 40h1v1h-1zM82 40h4v1h-4zM96 40h7v1h-7zM114 40h1v1h-1zM118 40h2v1h-2zM124 40h1v1h-1zM176 40h2v1h-2zM184 40h2v1h-2zM193 40h1v1h-1zM35 41h1v1h-1zM79 41h1v1h-1zM84 41h2v1h-2zM99 41h1v1h-1zM118 41h2v1h-2zM124 41h1v1h-1zM176 41h2v1h-2zM183 41h2v1h-2zM35 42h1v1h-1zM82 42h1v1h-1zM85 42h2v1h-2zM99 42h4v1h-4zM105 42h1v1h-1zM118 42h2v1h-2zM124 42h1v1h-1zM173 42h1v1h-1zM175 42h5v1h-5zM182 42h2v1h-2zM34 43h1v1h-1zM36 43h1v1h-1zM82 43h1v1h-1zM84 43h1v1h-1zM101 43h2v1h-2zM118 43h2v1h-2zM124 43h1v1h-1zM177 43h1v1h-1zM191 43h3v1h-3zM195 43h2v1h-2zM198 43h1v1h-1zM33 44h3v1h-3zM105 44h1v1h-1zM119 44h1v1h-1zM172 44h1v1h-1zM188 44h2v1h-2zM192 44h1v1h-1zM194 44h5v1h-5zM34 45h1v1h-1zM119 45h1v1h-1zM170 45h1v1h-1zM176 45h1v1h-1zM194 45h5v1h-5zM33 46h1v1h-1zM171 46h5v1h-5zM178 46h1v1h-1zM187 46h1v1h-1zM192 46h7v1h-7zM32 47h1v1h-1zM117 47h1v1h-1zM119 47h3v1h-3zM171 47h4v1h-4zM178 47h2v1h-2zM186 47h2v1h-2zM192 47h4v1h-4zM197 47h2v1h-2zM121 48h1v1h-1zM172 48h3v1h-3zM179 48h2v1h-2zM182 48h5v1h-5zM191 48h5v1h-5zM197 48h1v1h-1zM171 49h4v1h-4zM180 49h6v1h-6zM191 49h6v1h-6zM171 50h4v1h-4zM180 50h2v1h-2zM192 50h3v1h-3zM196 50h1v1h-1zM169 51h3v1h-3zM191 51h8v1h-8zM168 52h3v1h-3zM191 52h8v1h-8zM168 53h2v1h-2zM192 53h7v1h-7zM33 54h2v1h-2zM167 54h3v1h-3zM192 54h7v1h-7zM32 55h4v1h-4zM49 55h4v1h-4zM168 55h2v1h-2zM195 55h4v1h-4zM32 56h4v1h-4zM49 56h4v1h-4zM54 56h2v1h-2zM167 56h4v1h-4zM195 56h4v1h-4zM32 57h6v1h-6zM40 57h1v1h-1zM49 57h4v1h-4zM166 57h4v1h-4zM195 57h4v1h-4zM29 58h13v1h-13zM164 58h3v1h-3zM195 58h4v1h-4zM29 59h3v1h-3zM33 59h8v1h-8zM163 59h4v1h-4zM196 59h2v1h-2zM35 60h1v1h-1zM37 60h4v1h-4zM164 60h3v1h-3zM38 61h1v1h-1zM164 61h3v1h-3zM163 62h3v1h-3zM155 63h15v1h-15zM153 64h9v1h-9zM163 64h8v1h-8zM172 64h1v1h-1zM24 65h4v1h-4zM152 65h22v1h-22zM23 66h7v1h-7zM154 66h2v1h-2zM157 66h3v1h-3zM164 66h11v1h-11zM21 67h10v1h-10zM32 67h1v1h-1zM40 67h2v1h-2zM53 67h1v1h-1zM152 67h5v1h-5zM165 67h11v1h-11zM22 68h10v1h-10zM153 68h3v1h-3zM166 68h10v1h-10zM27 69h2v1h-2zM30 69h1v1h-1zM37 69h1v1h-1zM153 69h3v1h-3zM167 69h12v1h-12zM153 70h1v1h-1zM169 70h12v1h-12zM29 71h3v1h-3zM33 71h3v1h-3zM38 71h1v1h-1zM153 71h1v1h-1zM169 71h11v1h-11zM181 71h1v1h-1zM21 72h1v1h-1zM23 72h1v1h-1zM27 72h1v1h-1zM31 72h4v1h-4zM36 72h4v1h-4zM45 72h1v1h-1zM170 72h16v1h-16zM22 73h1v1h-1zM24 73h1v1h-1zM28 73h12v1h-12zM44 73h2v1h-2zM152 73h1v1h-1zM170 73h17v1h-17zM25 74h1v1h-1zM28 74h1v1h-1zM30 74h2v1h-2zM33 74h7v1h-7zM42 74h4v1h-4zM168 74h10v1h-10zM179 74h1v1h-1zM181 74h1v1h-1zM186 74h3v1h-3zM24 75h2v1h-2zM31 75h13v1h-13zM168 75h9v1h-9zM187 75h3v1h-3zM24 76h1v1h-1zM34 76h9v1h-9zM168 76h4v1h-4zM173 76h4v1h-4zM188 76h3v1h-3zM24 77h1v1h-1zM34 77h1v1h-1zM36 77h1v1h-1zM39 77h3v1h-3zM160 77h2v1h-2zM166 77h1v1h-1zM168 77h8v1h-8zM188 77h3v1h-3zM10 78h1v1h-1zM24 78h2v1h-2zM35 78h3v1h-3zM156 78h16v1h-16zM173 78h2v1h-2zM189 78h3v1h-3zM10 79h1v1h-1zM12 79h2v1h-2zM24 79h2v1h-2zM32 79h1v1h-1zM36 79h1v1h-1zM38 79h4v1h-4zM155 79h20v1h-20zM190 79h2v1h-2zM11 80h2v1h-2zM15 80h1v1h-1zM24 80h4v1h-4zM32 80h1v1h-1zM38 80h1v1h-1zM40 80h7v1h-7zM153 80h11v1h-11zM168 80h5v1h-5zM191 80h2v1h-2zM24 81h4v1h-4zM33 81h3v1h-3zM47 81h1v1h-1zM152 81h11v1h-11zM167 81h4v1h-4zM192 81h3v1h-3zM24 82h1v1h-1zM26 82h2v1h-2zM33 82h1v1h-1zM47 82h1v1h-1zM152 82h10v1h-10zM167 82h4v1h-4zM192 82h3v1h-3zM26 83h2v1h-2zM38 83h1v1h-1zM43 83h1v1h-1zM46 83h2v1h-2zM152 83h11v1h-11zM167 83h3v1h-3zM193 83h3v1h-3zM14 84h2v1h-2zM27 84h1v1h-1zM45 84h1v1h-1zM47 84h1v1h-1zM152 84h10v1h-10zM167 84h4v1h-4zM194 84h5v1h-5zM26 85h4v1h-4zM42 85h6v1h-6zM151 85h10v1h-10zM169 85h2v1h-2zM172 85h1v1h-1zM196 85h3v1h-3zM26 86h2v1h-2zM30 86h1v1h-1zM34 86h2v1h-2zM37 86h7v1h-7zM47 86h1v1h-1zM93 86h1v1h-1zM149 86h8v1h-8zM158 86h1v1h-1zM170 86h6v1h-6zM197 86h2v1h-2zM27 87h6v1h-6zM34 87h1v1h-1zM36 87h5v1h-5zM42 87h2v1h-2zM45 87h1v1h-1zM47 87h1v1h-1zM93 87h1v1h-1zM137 87h1v1h-1zM148 87h1v1h-1zM155 87h2v1h-2zM172 87h3v1h-3zM20 88h2v1h-2zM23 88h1v1h-1zM25 88h5v1h-5zM32 88h1v1h-1zM36 88h9v1h-9zM46 88h2v1h-2zM148 88h1v1h-1zM154 88h1v1h-1zM156 88h1v1h-1zM172 88h4v1h-4zM18 89h1v1h-1zM20 89h2v1h-2zM23 89h1v1h-1zM25 89h3v1h-3zM29 89h2v1h-2zM38 89h5v1h-5zM44 89h4v1h-4zM173 89h3v1h-3zM16 90h6v1h-6zM23 90h9v1h-9zM37 90h4v1h-4zM44 90h3v1h-3zM172 90h6v1h-6zM17 91h8v1h-8zM27 91h3v1h-3zM32 91h1v1h-1zM37 91h2v1h-2zM44 91h1v1h-1zM46 91h3v1h-3zM156 91h2v1h-2zM168 91h2v1h-2zM172 91h6v1h-6zM10 92h2v1h-2zM20 92h3v1h-3zM24 92h2v1h-2zM30 92h1v1h-1zM32 92h4v1h-4zM42 92h1v1h-1zM47 92h2v1h-2zM153 92h8v1h-8zM167 92h14v1h-14zM9 93h5v1h-5zM22 93h1v1h-1zM49 93h2v1h-2zM152 93h8v1h-8zM162 93h2v1h-2zM167 93h14v1h-14zM10 94h1v1h-1zM12 94h1v1h-1zM15 94h1v1h-1zM19 94h4v1h-4zM50 94h2v1h-2zM132 94h2v1h-2zM151 94h31v1h-31zM11 95h1v1h-1zM14 95h1v1h-1zM16 95h2v1h-2zM22 95h3v1h-3zM49 95h1v1h-1zM132 95h2v1h-2zM143 95h1v1h-1zM150 95h32v1h-32zM10 96h3v1h-3zM15 96h3v1h-3zM21 96h1v1h-1zM23 96h1v1h-1zM47 96h2v1h-2zM132 96h2v1h-2zM149 96h31v1h-31zM181 96h1v1h-1zM9 97h3v1h-3zM13 97h9v1h-9zM23 97h2v1h-2zM34 97h2v1h-2zM44 97h5v1h-5zM132 97h2v1h-2zM148 97h23v1h-23zM172 97h4v1h-4zM11 98h2v1h-2zM15 98h5v1h-5zM23 98h2v1h-2zM34 98h1v1h-1zM37 98h2v1h-2zM40 98h1v1h-1zM44 98h6v1h-6zM131 98h4v1h-4zM147 98h23v1h-23zM9 99h1v1h-1zM11 99h2v1h-2zM17 99h4v1h-4zM23 99h1v1h-1zM27 99h1v1h-1zM35 99h5v1h-5zM44 99h4v1h-4zM132 99h3v1h-3zM141 99h2v1h-2zM147 99h21v1h-21zM7 100h4v1h-4zM13 100h1v1h-1zM16 100h3v1h-3zM21 100h7v1h-7zM35 100h3v1h-3zM39 100h2v1h-2zM133 100h2v1h-2zM141 100h2v1h-2zM148 100h7v1h-7zM160 100h8v1h-8zM186 100h1v1h-1zM6 101h5v1h-5zM16 101h1v1h-1zM19 101h9v1h-9zM35 101h5v1h-5zM45 101h2v1h-2zM132 101h3v1h-3zM140 101h3v1h-3zM147 101h5v1h-5zM154 101h1v1h-1zM161 101h7v1h-7zM185 101h1v1h-1zM6 102h7v1h-7zM14 102h7v1h-7zM24 102h1v1h-1zM28 102h6v1h-6zM35 102h9v1h-9zM113 102h1v1h-1zM146 102h6v1h-6zM162 102h5v1h-5zM185 102h1v1h-1zM9 103h6v1h-6zM18 103h3v1h-3zM24 103h5v1h-5zM31 103h1v1h-1zM33 103h10v1h-10zM113 103h1v1h-1zM146 103h2v1h-2zM162 103h4v1h-4zM185 103h1v1h-1zM9 104h3v1h-3zM13 104h1v1h-1zM20 104h1v1h-1zM24 104h3v1h-3zM36 104h4v1h-4zM49 104h1v1h-1zM113 104h2v1h-2zM146 104h2v1h-2zM161 104h1v1h-1zM163 104h1v1h-1zM165 104h1v1h-1zM185 104h1v1h-1zM9 105h3v1h-3zM20 105h1v1h-1zM22 105h1v1h-1zM24 105h3v1h-3zM33 105h2v1h-2zM47 105h5v1h-5zM53 105h1v1h-1zM146 105h2v1h-2zM160 105h6v1h-6zM186 105h2v1h-2zM12 106h2v1h-2zM15 106h2v1h-2zM20 106h3v1h-3zM33 106h1v1h-1zM46 106h2v1h-2zM49 106h1v1h-1zM55 106h4v1h-4zM137 106h6v1h-6zM146 106h2v1h-2zM158 106h11v1h-11zM188 106h1v1h-1zM12 107h4v1h-4zM17 107h6v1h-6zM33 107h2v1h-2zM45 107h1v1h-1zM48 107h2v1h-2zM58 107h3v1h-3zM136 107h6v1h-6zM146 107h1v1h-1zM156 107h14v1h-14zM189 107h1v1h-1zM14 108h1v1h-1zM16 108h3v1h-3zM32 108h1v1h-1zM35 108h1v1h-1zM42 108h7v1h-7zM56 108h2v1h-2zM136 108h1v1h-1zM138 108h1v1h-1zM140 108h3v1h-3zM146 108h2v1h-2zM157 108h13v1h-13zM190 108h1v1h-1zM15 109h1v1h-1zM17 109h1v1h-1zM20 109h1v1h-1zM28 109h4v1h-4zM35 109h7v1h-7zM43 109h1v1h-1zM55 109h2v1h-2zM136 109h1v1h-1zM140 109h2v1h-2zM143 109h2v1h-2zM146 109h2v1h-2zM153 109h1v1h-1zM158 109h9v1h-9zM190 109h2v1h-2zM13 110h4v1h-4zM18 110h1v1h-1zM26 110h3v1h-3zM33 110h2v1h-2zM36 110h1v1h-1zM38 110h2v1h-2zM53 110h2v1h-2zM56 110h1v1h-1zM135 110h12v1h-12zM152 110h1v1h-1zM154 110h2v1h-2zM159 110h7v1h-7zM12 111h2v1h-2zM16 111h3v1h-3zM25 111h2v1h-2zM32 111h1v1h-1zM34 111h2v1h-2zM41 111h1v1h-1zM43 111h1v1h-1zM55 111h1v1h-1zM136 111h5v1h-5zM144 111h3v1h-3zM150 111h6v1h-6zM158 111h8v1h-8zM13 112h1v1h-1zM15 112h2v1h-2zM22 112h3v1h-3zM33 112h2v1h-2zM40 112h2v1h-2zM43 112h2v1h-2zM55 112h1v1h-1zM136 112h4v1h-4zM144 112h4v1h-4zM151 112h4v1h-4zM159 112h8v1h-8zM186 112h1v1h-1zM193 112h1v1h-1zM195 112h3v1h-3zM23 113h3v1h-3zM33 113h1v1h-1zM35 113h1v1h-1zM39 113h4v1h-4zM44 113h2v1h-2zM56 113h2v1h-2zM69 113h1v1h-1zM136 113h3v1h-3zM145 113h10v1h-10zM159 113h7v1h-7zM184 113h4v1h-4z"/>
<path fill="#F46D43" d="M92 0h21v1h-21zM119 0h2v1h-2zM143 0h20v1h-20zM172 0h4v1h-4zM189 0h1v1h-1zM92 1h20v1h-20zM119 1h2v1h-2zM143 1h20v1h-20zM164 1h1v1h-1zM172 1h4v1h-4zM189 1h1v1h-1zM92 2h20v1h-20zM113 2h1v1h-1zM119 2h2v1h-2zM143 2h13v1h-13zM157 2h4v1h-4zM173 2h2v1h-2zM176 2h1v1h-1zM187 2h2v1h-2zM93 3h22v1h-22zM116 3h1v1h-1zM118 3h2v1h-2zM143 3h16v1h-16zM160 3h2v1h-2zM175 3h5v1h-5zM181 3h1v1h-1zM183 3h5v1h-5zM96 4h25v1h-25zM140 4h2v1h-2zM143 4h18v1h-18zM178 4h5v1h-5zM100 5h21v1h-21zM141 5h12v1h-12zM154 5h4v1h-4zM104 6h1v1h-1zM106 6h17v1h-17zM139 6h1v1h-1zM141 6h8v1h-8zM150 6h5v1h-5zM104 7h2v1h-2zM107 7h18v1h-18zM126 7h1v1h-1zM140 7h8v1h-8zM151 7h3v1h-3zM104 8h10v1h-10zM115 8h12v1h-12zM128 8h2v1h-2zM143 8h5v1h-5zM150 8h2v1h-2zM154 8h1v1h-1zM108 9h3v1h-3zM112 9h1v1h-1zM117 9h1v1h-1zM119 9h12v1h-12zM147 9h1v1h-1zM150 9h1v1h-1zM152 9h3v1h-3zM108 10h3v1h-3zM121 10h13v1h-13zM149 10h5v1h-5zM175 10h2v1h-2zM179 10h6v1h-6zM108 11h2v1h-2zM124 11h7v1h-7zM132 11h1v1h-1zM138 11h1v1h-1zM140 11h2v1h-2zM145 11h1v1h-1zM148 11h5v1h-5zM184 11h2v1h-2zM108 12h1v1h-1zM136 12h9v1h-9zM149 12h3v1h-3zM185 12h1v1h-1zM107 13h2v1h-2zM136 13h3v1h-3zM144 13h8v1h-8zM185 13h1v1h-1zM107 14h2v1h-2zM136 14h3v1h-3zM144 14h5v1h-5zM186 14h1v1h-1zM188 14h2v1h-2zM42 15h1v1h-1zM106 15h2v1h-2zM134 15h4v1h-4zM187 15h3v1h-3zM97 16h1v1h-1zM103 16h4v1h-4zM132 16h6v1h-6zM188 16h4v1h-4zM96 17h9v1h-9zM132 17h9v1h-9zM142 17h1v1h-1zM192 17h2v1h-2zM89 18h7v1h-7zM99 18h3v1h-3zM132 18h13v1h-13zM193 18h1v1h-1zM82 19h1v1h-1zM87 19h8v1h-8zM101 19h1v1h-1zM131 19h13v1h-13zM193 19h2v1h-2zM82 20h2v1h-2zM85 20h8v1h-8zM94 20h3v1h-3zM104 20h3v1h-3zM108 20h4v1h-4zM114 20h1v1h-1zM116 20h2v1h-2zM120 20h1v1h-1zM122 20h1v1h-1zM124 20h18v1h-18zM194 20h1v1h-1zM46 21h1v1h-1zM81 21h11v1h-11zM95 21h3v1h-3zM104 21h21v1h-21zM135 21h7v1h-7zM194 21h1v1h-1zM81 22h1v1h-1zM84 22h6v1h-6zM96 22h3v1h-3zM103 22h18v1h-18zM122 22h1v1h-1zM135 22h5v1h-5zM86 23h4v1h-4zM97 23h15v1h-15zM116 23h1v1h-1zM136 23h4v1h-4zM97 24h6v1h-6zM105 24h1v1h-1zM107 24h3v1h-3zM137 24h1v1h-1zM89 25h1v1h-1zM98 25h1v1h-1zM101 25h1v1h-1zM108 25h3v1h-3zM88 26h2v1h-2zM97 26h2v1h-2zM110 26h1v1h-1zM87 27h2v1h-2zM97 27h1v1h-1zM34 28h1v1h-1zM86 28h2v1h-2zM97 28h1v1h-1zM82 29h5v1h-5zM97 29h1v1h-1zM83 30h3v1h-3zM97 30h1v1h-1zM84 31h2v1h-2zM99 31h1v1h-1zM99 32h1v1h-1zM188 32h1v1h-1zM98 33h2v1h-2zM187 33h1v1h-1zM187 34h1v1h-1zM39 35h1v1h-1zM185 35h2v1h-2zM84 36h1v1h-1zM98 36h1v1h-1zM185 36h2v1h-2zM84 37h1v1h-1zM99 37h1v1h-1zM184 37h3v1h-3zM84 38h2v1h-2zM99 38h1v1h-1zM184 38h2v1h-2zM84 39h1v1h-1zM100 39h1v1h-1zM114 39h1v1h-1zM116 39h1v1h-1zM177 39h1v1h-1zM179 39h1v1h-1zM184 39h1v1h-1zM80 40h2v1h-2zM110 40h1v1h-1zM117 40h1v1h-1zM120 40h1v1h-1zM178 40h6v1h-6zM80 41h1v1h-1zM100 41h7v1h-7zM178 41h5v1h-5zM103 42h1v1h-1zM180 42h2v1h-2zM103 43h1v1h-1zM180 43h2v1h-2zM180 44h1v1h-1zM190 44h2v1h-2zM193 44h1v1h-1zM179 45h1v1h-1zM188 45h6v1h-6zM176 46h2v1h-2zM188 46h4v1h-4zM175 47h2v1h-2zM188 47h4v1h-4zM175 48h4v1h-4zM187 48h4v1h-4zM175 49h5v1h-5zM186 49h5v1h-5zM175 50h5v1h-5zM182 50h10v1h-10zM172 51h19v1h-19zM171 52h9v1h-9zM185 52h6v1h-6zM170 53h10v1h-10zM186 53h6v1h-6zM170 54h9v1h-9zM188 54h4v1h-4zM53 55h2v1h-2zM57 55h2v1h-2zM170 55h12v1h-12zM183 55h1v1h-1zM188 55h7v1h-7zM53 56h1v1h-1zM171 56h12v1h-12zM186 56h9v1h-9zM170 57h13v1h-13zM187 57h8v1h-8zM167 58h9v1h-9zM187 58h8v1h-8zM167 59h9v1h-9zM186 59h10v1h-10zM198 59h1v1h-1zM167 60h11v1h-11zM188 60h11v1h-11zM167 61h3v1h-3zM171 61h8v1h-8zM182 61h2v1h-2zM190 61h9v1h-9zM166 62h13v1h-13zM180 62h1v1h-1zM188 62h11v1h-11zM170 63h8v1h-8zM180 63h1v1h-1zM185 63h14v1h-14zM162 64h1v1h-1zM171 64h1v1h-1zM173 64h6v1h-6zM185 64h14v1h-14zM174 65h5v1h-5zM186 65h13v1h-13zM175 66h3v1h-3zM184 66h2v1h-2zM190 66h9v1h-9zM176 67h3v1h-3zM185 67h1v1h-1zM187 67h1v1h-1zM189 67h10v1h-10zM176 68h6v1h-6zM183 68h1v1h-1zM186 68h1v1h-1zM188 68h1v1h-1zM190 68h9v1h-9zM179 69h5v1h-5zM187 69h12v1h-12zM181 70h5v1h-5zM187 70h12v1h-12zM180 71h1v1h-1zM182 71h17v1h-17zM186 72h13v1h-13zM187 73h12v1h-12zM26 74h2v1h-2zM29 74h1v1h-1zM32 74h1v1h-1zM189 74h4v1h-4zM194 74h1v1h-1zM198 74h1v1h-1zM27 75h4v1h-4zM190 75h2v1h-2zM25 76h9v1h-9zM172 76h1v1h-1zM191 76h1v1h-1zM25 77h9v1h-9zM35 77h1v1h-1zM191 77h1v1h-1zM26 78h9v1h-9zM172 78h1v1h-1zM192 78h2v1h-2zM26 79h6v1h-6zM33 79h3v1h-3zM37 79h1v1h-1zM192 79h3v1h-3zM28 80h4v1h-4zM33 80h5v1h-5zM39 80h1v1h-1zM164 80h4v1h-4zM193 80h3v1h-3zM28 81h5v1h-5zM36 81h8v1h-8zM46 81h1v1h-1zM163 81h4v1h-4zM195 81h1v1h-1zM28 82h5v1h-5zM34 82h6v1h-6zM41 82h6v1h-6zM162 82h5v1h-5zM195 82h2v1h-2zM198 82h1v1h-1zM28 83h10v1h-10zM39 83h4v1h-4zM44 83h2v1h-2zM163 83h4v1h-4zM196 83h3v1h-3zM28 84h13v1h-13zM42 84h3v1h-3zM46 84h1v1h-1zM162 84h5v1h-5zM30 85h12v1h-12zM161 85h8v1h-8zM28 86h2v1h-2zM31 86h3v1h-3zM36 86h1v1h-1zM157 86h1v1h-1zM159 86h11v1h-11zM33 87h1v1h-1zM35 87h1v1h-1zM149 87h4v1h-4zM157 87h15v1h-15zM149 88h5v1h-5zM155 88h1v1h-1zM157 88h15v1h-15zM43 89h1v1h-1zM148 89h25v1h-25zM22 90h1v1h-1zM41 90h3v1h-3zM147 90h2v1h-2zM150 90h22v1h-22zM25 91h2v1h-2zM30 91h2v1h-2zM39 91h5v1h-5zM45 91h1v1h-1zM147 91h2v1h-2zM150 91h6v1h-6zM158 91h10v1h-10zM170 91h2v1h-2zM23 92h1v1h-1zM26 92h4v1h-4zM31 92h1v1h-1zM36 92h6v1h-6zM43 92h4v1h-4zM146 92h3v1h-3zM150 92h3v1h-3zM161 92h6v1h-6zM23 93h4v1h-4zM28 93h5v1h-5zM34 93h10v1h-10zM48 93h1v1h-1zM145 93h7v1h-7zM160 93h2v1h-2zM164 93h3v1h-3zM13 94h2v1h-2zM23 94h8v1h-8zM32 94h6v1h-6zM39 94h1v1h-1zM42 94h2v1h-2zM45 94h5v1h-5zM144 94h7v1h-7zM12 95h2v1h-2zM15 95h1v1h-1zM25 95h2v1h-2zM28 95h1v1h-1zM31 95h1v1h-1zM33 95h5v1h-5zM47 95h2v1h-2zM144 95h6v1h-6zM13 96h2v1h-2zM24 96h4v1h-4zM33 96h6v1h-6zM44 96h3v1h-3zM143 96h2v1h-2zM146 96h3v1h-3zM25 97h3v1h-3zM31 97h3v1h-3zM36 97h4v1h-4zM43 97h1v1h-1zM143 97h2v1h-2zM146 97h2v1h-2zM13 98h2v1h-2zM25 98h3v1h-3zM29 98h5v1h-5zM35 98h2v1h-2zM39 98h1v1h-1zM41 98h3v1h-3zM142 98h5v1h-5zM13 99h4v1h-4zM24 99h3v1h-3zM28 99h7v1h-7zM40 99h4v1h-4zM143 99h4v1h-4zM11 100h2v1h-2zM14 100h2v1h-2zM28 100h7v1h-7zM41 100h5v1h-5zM143 100h5v1h-5zM11 101h5v1h-5zM28 101h5v1h-5zM34 101h1v1h-1zM40 101h5v1h-5zM143 101h4v1h-4zM152 101h2v1h-2zM13 102h1v1h-1zM21 102h3v1h-3zM34 102h1v1h-1zM142 102h4v1h-4zM21 103h3v1h-3zM143 103h3v1h-3zM21 104h3v1h-3zM143 104h3v1h-3zM164 104h1v1h-1zM21 105h1v1h-1zM23 105h1v1h-1zM143 105h3v1h-3zM14 106h1v1h-1zM50 106h5v1h-5zM143 106h3v1h-3zM46 107h2v1h-2zM50 107h2v1h-2zM56 107h2v1h-2zM142 107h4v1h-4zM33 108h2v1h-2zM49 108h1v1h-1zM51 108h1v1h-1zM54 108h2v1h-2zM137 108h1v1h-1zM139 108h1v1h-1zM143 108h3v1h-3zM16 109h1v1h-1zM32 109h3v1h-3zM42 109h1v1h-1zM44 109h5v1h-5zM52 109h3v1h-3zM137 109h3v1h-3zM142 109h1v1h-1zM145 109h1v1h-1zM17 110h1v1h-1zM29 110h4v1h-4zM35 110h1v1h-1zM40 110h3v1h-3zM44 110h2v1h-2zM51 110h2v1h-2zM153 110h1v1h-1zM14 111h2v1h-2zM27 111h3v1h-3zM31 111h1v1h-1zM33 111h1v1h-1zM36 111h3v1h-3zM40 111h1v1h-1zM42 111h1v1h-1zM44 111h2v1h-2zM52 111h1v1h-1zM54 111h1v1h-1zM14 112h1v1h-1zM25 112h1v1h-1zM27 112h1v1h-1zM32 112h1v1h-1zM35 112h5v1h-5zM42 112h1v1h-1zM45 112h2v1h-2zM52 112h3v1h-3zM14 113h2v1h-2zM26 113h1v1h-1zM32 113h1v1h-1zM34 113h1v1h-1zM36 113h3v1h-3zM43 113h1v1h-1zM46 113h2v1h-2zM55 113h1v1h-1z"/>
<path fill="#D53E4F" d="M121 0h2v1h-2zM128 0h15v1h-15zM176 0h7v1h-7zM186 0h3v1h-3zM121 1h2v1h-2zM128 1h15v1h-15zM176 1h6v1h-6zM183 1h1v1h-1zM185 1h2v1h-2zM188 1h1v1h-1zM121 2h2v1h-2zM129 2h14v1h-14zM156 2h1v1h-1zM175 2h1v1h-1zM177 2h10v1h-10zM120 3h3v1h-3zM134 3h9v1h-9zM180 3h1v1h-1zM182 3h1v1h-1zM121 4h2v1h-2zM134 4h6v1h-6zM142 4h1v1h-1zM121 5h3v1h-3zM134 5h7v1h-7zM153 5h1v1h-1zM105 6h1v1h-1zM123 6h7v1h-7zM136 6h3v1h-3zM140 6h1v1h-1zM149 6h1v1h-1zM106 7h1v1h-1zM125 7h1v1h-1zM127 7h4v1h-4zM136 7h4v1h-4zM148 7h3v1h-3zM114 8h1v1h-1zM127 8h1v1h-1zM130 8h3v1h-3zM137 8h6v1h-6zM148 8h2v1h-2zM152 8h2v1h-2zM111 9h1v1h-1zM113 9h4v1h-4zM118 9h1v1h-1zM131 9h5v1h-5zM138 9h9v1h-9zM148 9h2v1h-2zM151 9h1v1h-1zM111 10h10v1h-10zM134 10h15v1h-15zM110 11h14v1h-14zM131 11h1v1h-1zM133 11h5v1h-5zM139 11h1v1h-1zM142 11h3v1h-3zM146 11h2v1h-2zM109 12h27v1h-27zM145 12h4v1h-4zM109 13h27v1h-27zM109 14h27v1h-27zM108 15h26v1h-26zM107 16h25v1h-25zM105 17h27v1h-27zM96 18h3v1h-3zM102 18h30v1h-30zM95 19h6v1h-6zM102 19h29v1h-29zM97 20h7v1h-7zM107 20h1v1h-1zM112 20h2v1h-2zM115 20h1v1h-1zM118 20h2v1h-2zM121 20h1v1h-1zM123 20h1v1h-1zM98 21h6v1h-6zM99 22h4v1h-4zM177 47h1v1h-1zM180 52h5v1h-5zM180 53h6v1h-6zM179 54h9v1h-9zM55 55h2v1h-2zM182 55h1v1h-1zM184 55h4v1h-4zM183 56h3v1h-3zM183 57h4v1h-4zM176 58h11v1h-11zM176 59h10v1h-10zM178 60h10v1h-10zM170 61h1v1h-1zM179 61h3v1h-3zM184 61h6v1h-6zM179 62h1v1h-1zM181 62h7v1h-7zM178 63h2v1h-2zM181 63h4v1h-4zM179 64h6v1h-6zM179 65h7v1h-7zM178 66h6v1h-6zM186 66h4v1h-4zM179 67h6v1h-6zM186 67h1v1h-1zM188 67h1v1h-1zM182 68h1v1h-1zM184 68h2v1h-2zM187 68h1v1h-1zM189 68h1v1h-1zM184 69h3v1h-3zM186 70h1v1h-1zM193 74h1v1h-1zM195 74h3v1h-3zM26 75h1v1h-1zM192 75h7v1h-7zM192 76h7v1h-7zM192 77h7v1h-7zM194 78h5v1h-5zM195 79h4v1h-4zM196 80h3v1h-3zM44 81h2v1h-2zM196 81h3v1h-3zM40 82h1v1h-1zM197 82h1v1h-1zM41 84h1v1h-1zM149 90h1v1h-1zM149 91h1v1h-1zM149 92h1v1h-1zM27 93h1v1h-1zM33 93h1v1h-1zM44 93h4v1h-4zM31 94h1v1h-1zM38 94h1v1h-1zM40 94h2v1h-2zM44 94h1v1h-1zM27 95h1v1h-1zM29 95h2v1h-2zM32 95h1v1h-1zM38 95h2v1h-2zM41 95h6v1h-6zM28 96h2v1h-2zM31 96h2v1h-2zM39 96h5v1h-5zM145 96h1v1h-1zM28 97h3v1h-3zM40 97h3v1h-3zM145 97h1v1h-1zM28 98h1v1h-1zM33 101h1v1h-1zM52 107h4v1h-4zM50 108h1v1h-1zM52 108h2v1h-2zM49 109h3v1h-3zM43 110h1v1h-1zM46 110h4v1h-4zM30 111h1v1h-1zM39 111h1v1h-1zM46 111h2v1h-2zM49 111h1v1h-1zM53 111h1v1h-1zM26 112h1v1h-1zM28 112h2v1h-2zM47 112h5v1h-5zM27 113h4v1h-4zM48 113h3v1h-3zM52 113h3v1h-3z"/>
<path fill="#9E0142" d="M123 0h5v1h-5zM183 0h3v1h-3zM123 1h5v1h-5zM182 1h1v1h-1zM184 1h1v1h-1zM187 1h1v1h-1zM123 2h6v1h-6zM123 3h11v1h-11zM123 4h11v1h-11zM124 5h10v1h-10zM130 6h6v1h-6zM131 7h5v1h-5zM133 8h4v1h-4zM136 9h2v1h-2zM40 95h1v1h-1zM30 96h1v1h-1zM50 110h1v1h-1zM48 111h1v1h-1zM50 111h2v1h-2zM30 112h2v1h-2zM31 113h1v1h-1zM51 113h1v1h-1z"/>
</g></g>
<g clip-path="url(#lp)"><path d="M200.1 274.0 L199.3 298.8 L196.8 317.0 L201.8 322.0 L207.6 314.5 L219.2 318.3 L225.8 327.2 L234.0 331.1 L244.0 329.4 L253.1 324.4 L263.0 324.4 L272.6 318.3 L280.3 324.4 L287.8 327.2 L302.7 329.4 L315.9 329.4 L329.1 332.2 L337.7 341.0 L335.2 350.9 L327.5 347.6 L320.0 341.0 M210.9 274.0 L210.9 300.5 L224.1 297.2 L229.1 280.6 L228.3 274.0 M208.4 344.3 L213.4 341.0 L222.5 342.6 L237.4 358.3 L250.6 364.6 L254.7 363.0 L250.6 355.9 L244.0 349.7 L263.0 346.4 L270.4 358.3 L282.0 358.3 L295.2 350.1 L302.7 341.0 L320.0 341.0 L320.0 351.7 L326.7 356.7 L332.8 365.8 L340.7 367.8 L351.5 365.8 L371.3 357.5 L384.5 357.5 L388.0 360.0 M208.4 344.3 L218.3 354.7 L221.6 366.6 L226.9 381.5 L226.9 396.4 L222.5 406.3 L212.0 416.6 L220.0 439.4 L215.4 459.2 L219.2 480.7 L226.9 498.9 L221.6 513.0 L223.3 523.7 L235.7 546.0 M235.7 546.0 L235.7 556.7 L220.8 547.3 L215.4 552.6 L224.9 572.5 L215.4 588.7 L221.6 607.2 L215.4 631.7 L219.2 639.9 L209.2 671.7 L207.1 683.3 L209.7 700.6 L197.7 754.4 L201.5 770.6 L195.2 780.5 L199.8 792.4 L196.3 818.0 M196.8 818.0 L194.4 831.2 L198.5 854.1 L193.5 866.0 L193.5 889.1 L190.2 908.1 L186.1 925.5 L181.1 950.3 L180.3 983.4 L178.6 999.9 L170.4 1060.3 L173.7 1069.4 L168.4 1074.0 L168.4 1080.9 L166.2 1090.0 M167.1 1090.0 L158.0 1121.4 L144.7 1155.3 L132.3 1166.9 L129.9 1174.3 L134.0 1186.7 L121.6 1232.2 L115.8 1265.3 L111.7 1276.9 L93.5 1308.3 L103.4 1320.2 L105.1 1332.3 L115.0 1338.9 L117.1 1350.5 L125.7 1362.0 M123.2 1362.0 L126.6 1371.9 L132.7 1388.5 L124.1 1406.7 L120.8 1423.2 L124.4 1442.2 L121.1 1452.1 L126.6 1464.5 L125.4 1475.3 L130.7 1481.9 L135.6 1502.6 L142.3 1520.8 L153.8 1532.3 L164.6 1540.6 L165.7 1548.9 L163.8 1562.1 L158.0 1577.0 L154.7 1593.5 L157.5 1604.3 L164.6 1611.7 L171.2 1618.0 L177.0 1631.6 M388.0 359.2 L426.9 385.1 L437.6 406.3 L448.4 424.5 L451.7 441.0 L451.7 455.9 L456.1 472.4 L454.1 480.7 L454.1 497.3 L457.1 508.0 L464.4 517.1 L480.6 522.9 L497.1 525.7 L515.3 528.7 L535.2 533.3 L547.6 540.2 L560.0 536.9 L594.7 522.1 L627.0 508.5 L635.2 500.6 L646.3 494.3 L680.7 493.9 L702.2 490.6 L712.1 490.6 L728.0 493.6 M728.0 493.6 L742.9 493.9 L752.8 495.9 L765.2 501.4 L776.0 507.5 L785.9 520.4 L792.5 518.7 L808.2 506.8 L825.6 508.5 L838.0 508.5 L865.3 495.6 L890.9 483.2 L900.0 480.7 L909.1 483.7 L920.7 491.0 L933.1 495.6 L959.5 488.2 L979.4 483.2 L995.9 470.8 L1009.1 466.7 L1025.7 461.7 L1050.5 452.6 L1068.0 450.6 M1068.0 451.8 L1087.0 448.0 L1096.9 441.0 L1107.7 429.8 L1117.6 429.8 L1128.4 435.2 L1150.7 429.4 L1164.7 424.5 L1182.1 427.0 L1194.5 428.6 L1215.2 417.0 L1230.9 407.6 L1238.3 406.3 L1408.0 404.1 M1408.0 404.9 L1436.5 404.9 L1439.2 407.2 L1514.9 404.0 L1561.2 403.7 L1654.7 406.7 M1635.6 274.0 L1634.5 306.9 L1648.4 326.5 L1649.3 346.1 L1657.0 358.6 L1654.1 373.7 L1651.1 388.0 L1654.7 406.7 L1671.6 430.7 L1688.5 452.1 L1693.0 461.0 L1702.7 452.5 L1712.5 463.7 L1726.8 467.2 L1734.8 474.4 L1738.9 491.3 L1749.9 507.3 L1750.8 518.9 L1735.7 546.0 M1735.7 546.0 L1733.9 556.7 L1721.4 578.1 L1709.9 599.4 L1709.0 611.9 L1703.6 631.5 L1693.8 658.2 L1685.8 670.7 L1672.5 685.8 L1672.5 693.8 L1678.7 694.7 L1675.1 713.4 L1670.7 725.9 L1665.3 736.6 L1657.3 743.7 L1652.9 753.5 L1643.1 757.0 L1633.3 763.3 L1627.1 777.5 L1612.8 818.0 M1612.8 818.0 L1599.5 835.8 L1598.6 853.6 L1593.2 866.1 L1595.0 873.2 L1599.5 881.2 L1598.9 896.4 L1608.4 903.5 L1620.8 900.3 L1630.6 912.0 L1639.5 905.3 L1658.2 921.7 L1660.5 936.4 L1649.9 952.5 L1649.9 963.1 L1654.7 975.6 L1646.6 1006.8 L1636.0 1036.2 L1635.6 1090.0 M1635.6 1090.0 L1635.6 1547.8 M165.7 1548.9 L230.0 1547.6 L388.0 1547.8 L728.0 1548.0 L794.0 1545.2 L842.0 1543.4 L893.0 1545.2 L969.0 1547.2 L1024.0 1548.9 L1068.0 1548.0 L1408.0 1547.8 L1786.0 1547.8 M1024.0 1548.9 L1024.0 1632.0" fill="none" stroke="#333333" stroke-width="3.7" stroke-linejoin="round" stroke-linecap="butt"/></g>

<text transform="translate(1827.3 657) scale(1 1.11)" font-size="34" font-weight="bold">Degree Days</text>
<rect x="1827" y="679" width="60" height="60" fill="#5E4FA2"/><text transform="translate(1905 719) scale(1 1.107)" font-size="28.5">13-166</text><rect x="1827" y="739" width="60" height="60" fill="#3288BD"/><text transform="translate(1905 779) scale(1 1.107)" font-size="28.5">166-318</text><rect x="1827" y="799" width="60" height="60" fill="#66C2A5"/><text transform="translate(1905 839) scale(1 1.107)" font-size="28.5">318-471</text><rect x="1827" y="859" width="60" height="60" fill="#ABDDA4"/><text transform="translate(1905 899) scale(1 1.107)" font-size="28.5">471-624</text><rect x="1827" y="919" width="60" height="60" fill="#E6F598"/><text transform="translate(1905 959) scale(1 1.107)" font-size="28.5">624-776</text><rect x="1827" y="979" width="60" height="60" fill="#FEE08B"/><text transform="translate(1905 1019) scale(1 1.107)" font-size="28.5">776-929</text><rect x="1827" y="1039" width="60" height="60" fill="#FDAE61"/><text transform="translate(1905 1079) scale(1 1.107)" font-size="28.5">929-1080</text><rect x="1827" y="1099" width="60" height="60" fill="#F46D43"/><text transform="translate(1905 1139) scale(1 1.107)" font-size="28.5">1080-1230</text><rect x="1827" y="1159" width="60" height="60" fill="#D53E4F"/><text transform="translate(1905 1199) scale(1 1.107)" font-size="28.5">1230-1390</text><rect x="1827" y="1219" width="60" height="60" fill="#9E0142"/><text transform="translate(1905 1259) scale(1 1.107)" font-size="28.5">1390-1540</text>
</svg>
</body></html>
